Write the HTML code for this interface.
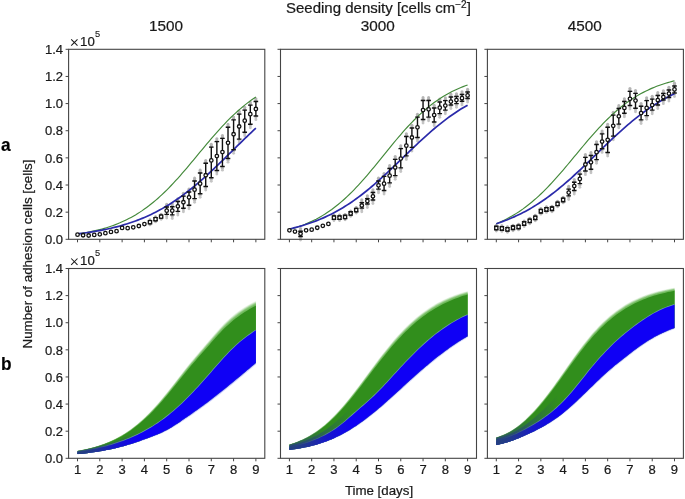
<!DOCTYPE html><html><head><meta charset="utf-8"><style>html,body{margin:0;padding:0;background:#fff;}svg{display:block;will-change:transform}text{font-family:"Liberation Sans", sans-serif;fill:#1a1a1a;stroke:#1a1a1a;stroke-width:0.22px}</style></head><body>
<svg width="685" height="499" viewBox="0 0 685 499">
<rect width="685" height="499" fill="#fff"/>
<defs>
<linearGradient id="nv0" gradientUnits="userSpaceOnUse" x1="77.52" y1="0" x2="139.95" y2="0"><stop offset="0" stop-color="#243f80" stop-opacity="0.9"/><stop offset="1" stop-color="#243f80" stop-opacity="0"/></linearGradient>
<linearGradient id="ng0" gradientUnits="userSpaceOnUse" x1="77.52" y1="0" x2="113.19" y2="0"><stop offset="0" stop-color="#2a4a70" stop-opacity="0.9"/><stop offset="1" stop-color="#2a4a70" stop-opacity="0"/></linearGradient>
<linearGradient id="nv1" gradientUnits="userSpaceOnUse" x1="289.41" y1="0" x2="351.77" y2="0"><stop offset="0" stop-color="#243f80" stop-opacity="0.9"/><stop offset="1" stop-color="#243f80" stop-opacity="0"/></linearGradient>
<linearGradient id="ng1" gradientUnits="userSpaceOnUse" x1="289.41" y1="0" x2="325.05" y2="0"><stop offset="0" stop-color="#2a4a70" stop-opacity="0.9"/><stop offset="1" stop-color="#2a4a70" stop-opacity="0"/></linearGradient>
<linearGradient id="nv2" gradientUnits="userSpaceOnUse" x1="496.31" y1="0" x2="558.67" y2="0"><stop offset="0" stop-color="#243f80" stop-opacity="0.9"/><stop offset="1" stop-color="#243f80" stop-opacity="0"/></linearGradient>
<linearGradient id="ng2" gradientUnits="userSpaceOnUse" x1="496.31" y1="0" x2="531.95" y2="0"><stop offset="0" stop-color="#2a4a70" stop-opacity="0.9"/><stop offset="1" stop-color="#2a4a70" stop-opacity="0"/></linearGradient>
</defs>
<path d="M77.52,450.77 L79.75,450.36 L81.98,449.95 L84.21,449.49 L86.44,448.99 L88.67,448.48 L90.90,447.92 L93.12,447.33 L95.35,446.69 L97.58,446.01 L99.81,445.28 L102.04,444.51 L104.27,443.69 L106.50,442.81 L108.73,441.88 L110.96,440.89 L113.19,439.85 L115.42,438.74 L117.65,437.55 L119.88,436.31 L122.11,435.00 L124.34,433.63 L126.57,432.16 L128.80,430.64 L131.03,429.03 L133.26,427.34 L135.49,425.58 L137.72,423.73 L139.95,421.80 L142.18,419.81 L144.40,417.71 L146.63,415.55 L148.86,413.30 L151.09,410.97 L153.32,408.58 L155.55,406.11 L157.78,403.58 L160.01,400.98 L162.24,398.31 L164.47,395.61 L166.70,392.83 L168.93,390.04 L171.16,387.20 L173.39,384.33 L175.62,381.45 L177.85,378.56 L180.08,375.65 L182.31,372.78 L184.54,369.93 L186.77,367.10 L189.00,364.32 L191.22,361.58 L193.45,358.87 L195.68,356.22 L197.91,353.59 L200.14,350.99 L202.37,348.38 L204.60,345.77 L206.83,343.17 L209.06,340.54 L211.29,337.93 L213.52,335.33 L215.75,332.75 L217.98,330.24 L220.21,327.78 L222.44,325.40 L224.67,323.12 L226.90,320.95 L229.13,318.88 L231.36,316.92 L233.59,315.06 L235.82,313.29 L238.05,311.61 L240.28,310.03 L242.50,308.51 L244.73,307.07 L246.96,305.72 L249.19,304.42 L251.42,303.20 L253.65,302.02 L255.88,300.92 L255.88,362.84 L253.65,364.72 L251.42,366.57 L249.19,368.44 L246.96,370.31 L244.73,372.17 L242.50,374.04 L240.28,375.90 L238.05,377.76 L235.82,379.60 L233.59,381.44 L231.36,383.27 L229.13,385.10 L226.90,386.92 L224.67,388.72 L222.44,390.51 L220.21,392.29 L217.98,394.05 L215.75,395.80 L213.52,397.54 L211.29,399.26 L209.06,400.96 L206.83,402.64 L204.60,404.31 L202.37,405.95 L200.14,407.58 L197.91,409.19 L195.68,410.79 L193.45,412.37 L191.22,413.93 L189.00,415.49 L186.77,417.04 L184.54,418.58 L182.31,420.12 L180.08,421.64 L177.85,423.14 L175.62,424.60 L173.39,426.03 L171.16,427.38 L168.93,428.69 L166.70,429.92 L164.47,431.08 L162.24,432.17 L160.01,433.18 L157.78,434.15 L155.55,435.07 L153.32,435.97 L151.09,436.83 L148.86,437.67 L146.63,438.49 L144.40,439.32 L142.18,440.12 L139.95,440.92 L137.72,441.68 L135.49,442.45 L133.26,443.18 L131.03,443.90 L128.80,444.59 L126.57,445.25 L124.34,445.88 L122.11,446.49 L119.88,447.08 L117.65,447.64 L115.42,448.17 L113.19,448.69 L110.96,449.18 L108.73,449.64 L106.50,450.08 L104.27,450.50 L102.04,450.90 L99.81,451.28 L97.58,451.64 L95.35,451.98 L93.12,452.31 L90.90,452.61 L88.67,452.90 L86.44,453.18 L84.21,453.43 L81.98,453.68 L79.75,453.89 L77.52,454.11Z" fill="#6cb858" fill-opacity="0.16"/>
<path d="M77.52,450.81 L79.75,450.41 L81.98,450.00 L84.21,449.55 L86.44,449.05 L88.67,448.54 L90.90,447.99 L93.12,447.40 L95.35,446.76 L97.58,446.09 L99.81,445.37 L102.04,444.60 L104.27,443.78 L106.50,442.91 L108.73,441.99 L110.96,441.01 L113.19,439.97 L115.42,438.87 L117.65,437.70 L119.88,436.47 L122.11,435.17 L124.34,433.80 L126.57,432.35 L128.80,430.84 L131.03,429.24 L133.26,427.57 L135.49,425.82 L137.72,423.98 L139.95,422.08 L142.18,420.10 L144.40,418.02 L146.63,415.87 L148.86,413.64 L151.09,411.34 L153.32,408.97 L155.55,406.52 L157.78,404.02 L160.01,401.44 L162.24,398.80 L164.47,396.11 L166.70,393.36 L168.93,390.59 L171.16,387.77 L173.39,384.93 L175.62,382.07 L177.85,379.19 L180.08,376.31 L182.31,373.46 L184.54,370.62 L186.77,367.81 L189.00,365.05 L191.22,362.33 L193.45,359.64 L195.68,357.00 L197.91,354.39 L200.14,351.79 L202.37,349.21 L204.60,346.61 L206.83,344.02 L209.06,341.41 L211.29,338.80 L213.52,336.22 L215.75,333.65 L217.98,331.15 L220.21,328.70 L222.44,326.33 L224.67,324.06 L226.90,321.89 L229.13,319.82 L231.36,317.87 L233.59,316.00 L235.82,314.24 L238.05,312.55 L240.28,310.97 L242.50,309.45 L244.73,308.00 L246.96,306.64 L249.19,305.33 L251.42,304.11 L253.65,302.92 L255.88,301.81 L255.88,362.84 L253.65,364.72 L251.42,366.57 L249.19,368.44 L246.96,370.31 L244.73,372.17 L242.50,374.04 L240.28,375.90 L238.05,377.76 L235.82,379.60 L233.59,381.44 L231.36,383.27 L229.13,385.10 L226.90,386.92 L224.67,388.72 L222.44,390.51 L220.21,392.29 L217.98,394.05 L215.75,395.80 L213.52,397.54 L211.29,399.26 L209.06,400.96 L206.83,402.64 L204.60,404.31 L202.37,405.95 L200.14,407.58 L197.91,409.19 L195.68,410.79 L193.45,412.37 L191.22,413.93 L189.00,415.49 L186.77,417.04 L184.54,418.58 L182.31,420.12 L180.08,421.64 L177.85,423.14 L175.62,424.60 L173.39,426.03 L171.16,427.38 L168.93,428.69 L166.70,429.92 L164.47,431.08 L162.24,432.17 L160.01,433.18 L157.78,434.15 L155.55,435.07 L153.32,435.97 L151.09,436.83 L148.86,437.67 L146.63,438.49 L144.40,439.32 L142.18,440.12 L139.95,440.92 L137.72,441.68 L135.49,442.45 L133.26,443.18 L131.03,443.90 L128.80,444.59 L126.57,445.25 L124.34,445.88 L122.11,446.49 L119.88,447.08 L117.65,447.64 L115.42,448.17 L113.19,448.69 L110.96,449.18 L108.73,449.64 L106.50,450.08 L104.27,450.50 L102.04,450.90 L99.81,451.28 L97.58,451.64 L95.35,451.98 L93.12,452.31 L90.90,452.61 L88.67,452.90 L86.44,453.18 L84.21,453.43 L81.98,453.68 L79.75,453.89 L77.52,454.11Z" fill="#6cb858" fill-opacity="0.3"/>
<path d="M77.52,450.86 L79.75,450.46 L81.98,450.05 L84.21,449.60 L86.44,449.11 L88.67,448.60 L90.90,448.06 L93.12,447.47 L95.35,446.84 L97.58,446.17 L99.81,445.46 L102.04,444.69 L104.27,443.88 L106.50,443.02 L108.73,442.10 L110.96,441.13 L113.19,440.10 L115.42,439.00 L117.65,437.84 L119.88,436.62 L122.11,435.33 L124.34,433.98 L126.57,432.54 L128.80,431.04 L131.03,429.45 L133.26,427.79 L135.49,426.07 L137.72,424.24 L139.95,422.35 L142.18,420.39 L144.40,418.33 L146.63,416.20 L148.86,413.99 L151.09,411.71 L153.32,409.37 L155.55,406.94 L157.78,404.45 L160.01,401.90 L162.24,399.28 L164.47,396.62 L166.70,393.89 L168.93,391.14 L171.16,388.34 L173.39,385.52 L175.62,382.68 L177.85,379.83 L180.08,376.97 L182.31,374.14 L184.54,371.32 L186.77,368.53 L189.00,365.78 L191.22,363.07 L193.45,360.40 L195.68,357.78 L197.91,355.18 L200.14,352.60 L202.37,350.03 L204.60,347.44 L206.83,344.87 L209.06,342.27 L211.29,339.68 L213.52,337.11 L215.75,334.55 L217.98,332.06 L220.21,329.62 L222.44,327.26 L224.67,325.00 L226.90,322.83 L229.13,320.77 L231.36,318.81 L233.59,316.95 L235.82,315.18 L238.05,313.50 L240.28,311.91 L242.50,310.38 L244.73,308.93 L246.96,307.57 L249.19,306.25 L251.42,305.01 L253.65,303.82 L255.88,302.69 L255.88,362.84 L253.65,364.72 L251.42,366.57 L249.19,368.44 L246.96,370.31 L244.73,372.17 L242.50,374.04 L240.28,375.90 L238.05,377.76 L235.82,379.60 L233.59,381.44 L231.36,383.27 L229.13,385.10 L226.90,386.92 L224.67,388.72 L222.44,390.51 L220.21,392.29 L217.98,394.05 L215.75,395.80 L213.52,397.54 L211.29,399.26 L209.06,400.96 L206.83,402.64 L204.60,404.31 L202.37,405.95 L200.14,407.58 L197.91,409.19 L195.68,410.79 L193.45,412.37 L191.22,413.93 L189.00,415.49 L186.77,417.04 L184.54,418.58 L182.31,420.12 L180.08,421.64 L177.85,423.14 L175.62,424.60 L173.39,426.03 L171.16,427.38 L168.93,428.69 L166.70,429.92 L164.47,431.08 L162.24,432.17 L160.01,433.18 L157.78,434.15 L155.55,435.07 L153.32,435.97 L151.09,436.83 L148.86,437.67 L146.63,438.49 L144.40,439.32 L142.18,440.12 L139.95,440.92 L137.72,441.68 L135.49,442.45 L133.26,443.18 L131.03,443.90 L128.80,444.59 L126.57,445.25 L124.34,445.88 L122.11,446.49 L119.88,447.08 L117.65,447.64 L115.42,448.17 L113.19,448.69 L110.96,449.18 L108.73,449.64 L106.50,450.08 L104.27,450.50 L102.04,450.90 L99.81,451.28 L97.58,451.64 L95.35,451.98 L93.12,452.31 L90.90,452.61 L88.67,452.90 L86.44,453.18 L84.21,453.43 L81.98,453.68 L79.75,453.89 L77.52,454.11Z" fill="#6cb858" fill-opacity="0.45"/>
<path d="M77.52,450.91 L79.75,450.51 L81.98,450.11 L84.21,449.66 L86.44,449.17 L88.67,448.67 L90.90,448.12 L93.12,447.54 L95.35,446.91 L97.58,446.25 L99.81,445.54 L102.04,444.78 L104.27,443.98 L106.50,443.12 L108.73,442.21 L110.96,441.25 L113.19,440.23 L115.42,439.14 L117.65,437.98 L119.88,436.77 L122.11,435.50 L124.34,434.15 L126.57,432.72 L128.80,431.24 L131.03,429.66 L133.26,428.02 L135.49,426.31 L137.72,424.50 L139.95,422.62 L142.18,420.68 L144.40,418.64 L146.63,416.53 L148.86,414.34 L151.09,412.08 L153.32,409.76 L155.55,407.35 L157.78,404.89 L160.01,402.36 L162.24,399.76 L164.47,397.13 L166.70,394.42 L168.93,391.70 L171.16,388.92 L173.39,386.12 L175.62,383.30 L177.85,380.47 L180.08,377.62 L182.31,374.81 L184.54,372.01 L186.77,369.24 L189.00,366.51 L191.22,363.82 L193.45,361.17 L195.68,358.56 L197.91,355.97 L200.14,353.41 L202.37,350.85 L204.60,348.28 L206.83,345.72 L209.06,343.13 L211.29,340.56 L213.52,338.00 L215.75,335.45 L217.98,332.97 L220.21,330.54 L222.44,328.19 L224.67,325.93 L226.90,323.78 L229.13,321.71 L231.36,319.76 L233.59,317.90 L235.82,316.13 L238.05,314.44 L240.28,312.85 L242.50,311.32 L244.73,309.86 L246.96,308.49 L249.19,307.16 L251.42,305.92 L253.65,304.71 L255.88,303.58 L255.88,362.84 L253.65,364.72 L251.42,366.57 L249.19,368.44 L246.96,370.31 L244.73,372.17 L242.50,374.04 L240.28,375.90 L238.05,377.76 L235.82,379.60 L233.59,381.44 L231.36,383.27 L229.13,385.10 L226.90,386.92 L224.67,388.72 L222.44,390.51 L220.21,392.29 L217.98,394.05 L215.75,395.80 L213.52,397.54 L211.29,399.26 L209.06,400.96 L206.83,402.64 L204.60,404.31 L202.37,405.95 L200.14,407.58 L197.91,409.19 L195.68,410.79 L193.45,412.37 L191.22,413.93 L189.00,415.49 L186.77,417.04 L184.54,418.58 L182.31,420.12 L180.08,421.64 L177.85,423.14 L175.62,424.60 L173.39,426.03 L171.16,427.38 L168.93,428.69 L166.70,429.92 L164.47,431.08 L162.24,432.17 L160.01,433.18 L157.78,434.15 L155.55,435.07 L153.32,435.97 L151.09,436.83 L148.86,437.67 L146.63,438.49 L144.40,439.32 L142.18,440.12 L139.95,440.92 L137.72,441.68 L135.49,442.45 L133.26,443.18 L131.03,443.90 L128.80,444.59 L126.57,445.25 L124.34,445.88 L122.11,446.49 L119.88,447.08 L117.65,447.64 L115.42,448.17 L113.19,448.69 L110.96,449.18 L108.73,449.64 L106.50,450.08 L104.27,450.50 L102.04,450.90 L99.81,451.28 L97.58,451.64 L95.35,451.98 L93.12,452.31 L90.90,452.61 L88.67,452.90 L86.44,453.18 L84.21,453.43 L81.98,453.68 L79.75,453.89 L77.52,454.11Z" fill="#6cb858" fill-opacity="0.65"/>
<path d="M77.52,450.96 L79.75,450.57 L81.98,450.16 L84.21,449.72 L86.44,449.23 L88.67,448.73 L90.90,448.19 L93.12,447.61 L95.35,446.99 L97.58,446.33 L99.81,445.63 L102.04,444.87 L104.27,444.08 L106.50,443.23 L108.73,442.32 L110.96,441.36 L113.19,440.35 L115.42,439.27 L117.65,438.13 L119.88,436.93 L122.11,435.66 L124.34,434.33 L126.57,432.91 L128.80,431.44 L131.03,429.88 L133.26,428.25 L135.49,426.55 L137.72,424.75 L139.95,422.89 L142.18,420.97 L144.40,418.95 L146.63,416.86 L148.86,414.69 L151.09,412.45 L153.32,410.15 L155.55,407.76 L157.78,405.33 L160.01,402.82 L162.24,400.25 L164.47,397.63 L166.70,394.95 L168.93,392.25 L171.16,389.49 L173.39,386.71 L175.62,383.92 L177.85,381.10 L180.08,378.28 L182.31,375.49 L184.54,372.71 L186.77,369.96 L189.00,367.24 L191.22,364.57 L193.45,361.93 L195.68,359.34 L197.91,356.77 L200.14,354.22 L202.37,351.67 L204.60,349.12 L206.83,346.57 L209.06,344.00 L211.29,341.43 L213.52,338.89 L215.75,336.35 L217.98,333.88 L220.21,331.46 L222.44,329.12 L224.67,326.87 L226.90,324.72 L229.13,322.66 L231.36,320.71 L233.59,318.85 L235.82,317.08 L238.05,315.39 L240.28,313.79 L242.50,312.25 L244.73,310.79 L246.96,309.41 L249.19,308.08 L251.42,306.82 L253.65,305.61 L255.88,304.46 L255.88,362.84 L253.65,364.72 L251.42,366.57 L249.19,368.44 L246.96,370.31 L244.73,372.17 L242.50,374.04 L240.28,375.90 L238.05,377.76 L235.82,379.60 L233.59,381.44 L231.36,383.27 L229.13,385.10 L226.90,386.92 L224.67,388.72 L222.44,390.51 L220.21,392.29 L217.98,394.05 L215.75,395.80 L213.52,397.54 L211.29,399.26 L209.06,400.96 L206.83,402.64 L204.60,404.31 L202.37,405.95 L200.14,407.58 L197.91,409.19 L195.68,410.79 L193.45,412.37 L191.22,413.93 L189.00,415.49 L186.77,417.04 L184.54,418.58 L182.31,420.12 L180.08,421.64 L177.85,423.14 L175.62,424.60 L173.39,426.03 L171.16,427.38 L168.93,428.69 L166.70,429.92 L164.47,431.08 L162.24,432.17 L160.01,433.18 L157.78,434.15 L155.55,435.07 L153.32,435.97 L151.09,436.83 L148.86,437.67 L146.63,438.49 L144.40,439.32 L142.18,440.12 L139.95,440.92 L137.72,441.68 L135.49,442.45 L133.26,443.18 L131.03,443.90 L128.80,444.59 L126.57,445.25 L124.34,445.88 L122.11,446.49 L119.88,447.08 L117.65,447.64 L115.42,448.17 L113.19,448.69 L110.96,449.18 L108.73,449.64 L106.50,450.08 L104.27,450.50 L102.04,450.90 L99.81,451.28 L97.58,451.64 L95.35,451.98 L93.12,452.31 L90.90,452.61 L88.67,452.90 L86.44,453.18 L84.21,453.43 L81.98,453.68 L79.75,453.89 L77.52,454.11Z" fill="#6cb858" fill-opacity="0.8"/>
<path d="M77.52,451.02 L79.75,450.63 L81.98,450.23 L84.21,449.79 L86.44,449.31 L88.67,448.81 L90.90,448.28 L93.12,447.71 L95.35,447.09 L97.58,446.44 L99.81,445.74 L102.04,444.99 L104.27,444.21 L106.50,443.36 L108.73,442.47 L110.96,441.52 L113.19,440.52 L115.42,439.45 L117.65,438.32 L119.88,437.13 L122.11,435.88 L124.34,434.56 L126.57,433.16 L128.80,431.71 L131.03,430.16 L133.26,428.55 L135.49,426.87 L137.72,425.10 L139.95,423.26 L142.18,421.35 L144.40,419.36 L146.63,417.29 L148.86,415.15 L151.09,412.94 L153.32,410.67 L155.55,408.32 L157.78,405.91 L160.01,403.43 L162.24,400.89 L164.47,398.31 L166.70,395.66 L168.93,392.98 L171.16,390.26 L173.39,387.51 L175.62,384.74 L177.85,381.95 L180.08,379.16 L182.31,376.39 L184.54,373.64 L186.77,370.91 L189.00,368.22 L191.22,365.57 L193.45,362.95 L195.68,360.38 L197.91,357.83 L200.14,355.30 L202.37,352.77 L204.60,350.23 L206.83,347.70 L209.06,345.15 L211.29,342.60 L213.52,340.07 L215.75,337.56 L217.98,335.10 L220.21,332.69 L222.44,330.36 L224.67,328.12 L226.90,325.98 L229.13,323.92 L231.36,321.97 L233.59,320.11 L235.82,318.34 L238.05,316.65 L240.28,315.05 L242.50,313.50 L244.73,312.03 L246.96,310.64 L249.19,309.30 L251.42,308.03 L253.65,306.80 L255.88,305.64 L255.88,362.84 L253.65,364.72 L251.42,366.57 L249.19,368.44 L246.96,370.31 L244.73,372.17 L242.50,374.04 L240.28,375.90 L238.05,377.76 L235.82,379.60 L233.59,381.44 L231.36,383.27 L229.13,385.10 L226.90,386.92 L224.67,388.72 L222.44,390.51 L220.21,392.29 L217.98,394.05 L215.75,395.80 L213.52,397.54 L211.29,399.26 L209.06,400.96 L206.83,402.64 L204.60,404.31 L202.37,405.95 L200.14,407.58 L197.91,409.19 L195.68,410.79 L193.45,412.37 L191.22,413.93 L189.00,415.49 L186.77,417.04 L184.54,418.58 L182.31,420.12 L180.08,421.64 L177.85,423.14 L175.62,424.60 L173.39,426.03 L171.16,427.38 L168.93,428.69 L166.70,429.92 L164.47,431.08 L162.24,432.17 L160.01,433.18 L157.78,434.15 L155.55,435.07 L153.32,435.97 L151.09,436.83 L148.86,437.67 L146.63,438.49 L144.40,439.32 L142.18,440.12 L139.95,440.92 L137.72,441.68 L135.49,442.45 L133.26,443.18 L131.03,443.90 L128.80,444.59 L126.57,445.25 L124.34,445.88 L122.11,446.49 L119.88,447.08 L117.65,447.64 L115.42,448.17 L113.19,448.69 L110.96,449.18 L108.73,449.64 L106.50,450.08 L104.27,450.50 L102.04,450.90 L99.81,451.28 L97.58,451.64 L95.35,451.98 L93.12,452.31 L90.90,452.61 L88.67,452.90 L86.44,453.18 L84.21,453.43 L81.98,453.68 L79.75,453.89 L77.52,454.11Z" fill="#318e1c"/>
<path d="M77.52,452.21 L79.75,451.86 L81.98,451.49 L84.21,451.10 L86.44,450.69 L88.67,450.27 L90.90,449.83 L93.12,449.37 L95.35,448.89 L97.58,448.39 L99.81,447.86 L102.04,447.32 L104.27,446.75 L106.50,446.15 L108.73,445.53 L110.96,444.89 L113.19,444.21 L115.42,443.52 L117.65,442.79 L119.88,442.02 L122.11,441.23 L124.34,440.40 L126.57,439.55 L128.80,438.64 L131.03,437.72 L133.26,436.74 L135.49,435.73 L137.72,434.68 L139.95,433.59 L142.18,432.45 L144.40,431.27 L146.63,430.03 L148.86,428.76 L151.09,427.43 L153.32,426.06 L155.55,424.62 L157.78,423.15 L160.01,421.61 L162.24,420.03 L164.47,418.39 L166.70,416.69 L168.93,414.93 L171.16,413.11 L173.39,411.26 L175.62,409.33 L177.85,407.34 L180.08,405.31 L182.31,403.22 L184.54,401.06 L186.77,398.87 L189.00,396.62 L191.22,394.32 L193.45,391.98 L195.68,389.61 L197.91,387.18 L200.14,384.73 L202.37,382.24 L204.60,379.74 L206.83,377.22 L209.06,374.67 L211.29,372.13 L213.52,369.58 L215.75,367.04 L217.98,364.51 L220.21,362.01 L222.44,359.54 L224.67,357.10 L226.90,354.70 L229.13,352.37 L231.36,350.11 L233.59,347.93 L235.82,345.82 L238.05,343.80 L240.28,341.87 L242.50,340.03 L244.73,338.28 L246.96,336.59 L249.19,334.96 L251.42,333.38 L253.65,331.85 L255.88,330.34" fill="none" stroke="#7fa8c8" stroke-width="1.5" stroke-opacity="0.75"/>
<path d="M77.52,452.21 L79.75,451.86 L81.98,451.49 L84.21,451.10 L86.44,450.69 L88.67,450.27 L90.90,449.83 L93.12,449.37 L95.35,448.89 L97.58,448.39 L99.81,447.86 L102.04,447.32 L104.27,446.75 L106.50,446.15 L108.73,445.53 L110.96,444.89 L113.19,444.21 L115.42,443.52 L117.65,442.79 L119.88,442.02 L122.11,441.23 L124.34,440.40 L126.57,439.55 L128.80,438.64 L131.03,437.72 L133.26,436.74 L135.49,435.73 L137.72,434.68 L139.95,433.59 L142.18,432.45 L144.40,431.27 L146.63,430.03 L148.86,428.76 L151.09,427.43 L153.32,426.06 L155.55,424.62 L157.78,423.15 L160.01,421.61 L162.24,420.03 L164.47,418.39 L166.70,416.69 L168.93,414.93 L171.16,413.11 L173.39,411.26 L175.62,409.33 L177.85,407.34 L180.08,405.31 L182.31,403.22 L184.54,401.06 L186.77,398.87 L189.00,396.62 L191.22,394.32 L193.45,391.98 L195.68,389.61 L197.91,387.18 L200.14,384.73 L202.37,382.24 L204.60,379.74 L206.83,377.22 L209.06,374.67 L211.29,372.13 L213.52,369.58 L215.75,367.04 L217.98,364.51 L220.21,362.01 L222.44,359.54 L224.67,357.10 L226.90,354.70 L229.13,352.37 L231.36,350.11 L233.59,347.93 L235.82,345.82 L238.05,343.80 L240.28,341.87 L242.50,340.03 L244.73,338.28 L246.96,336.59 L249.19,334.96 L251.42,333.38 L253.65,331.85 L255.88,330.34 L255.88,364.61 L253.65,366.51 L251.42,368.38 L249.19,370.27 L246.96,372.16 L244.73,374.03 L242.50,375.91 L240.28,377.78 L238.05,379.65 L235.82,381.50 L233.59,383.34 L231.36,385.17 L229.13,387.00 L226.90,388.81 L224.67,390.60 L222.44,392.37 L220.21,394.13 L217.98,395.88 L215.75,397.60 L213.52,399.31 L211.29,401.01 L209.06,402.68 L206.83,404.34 L204.60,405.98 L202.37,407.60 L200.14,409.19 L197.91,410.78 L195.68,412.35 L193.45,413.89 L191.22,415.43 L189.00,416.95 L186.77,418.47 L184.54,419.97 L182.31,421.48 L180.08,422.95 L177.85,424.42 L175.62,425.84 L173.39,427.22 L171.16,428.53 L168.93,429.79 L166.70,430.98 L164.47,432.09 L162.24,433.13 L160.01,434.10 L157.78,435.02 L155.55,435.90 L153.32,436.75 L151.09,437.56 L148.86,438.37 L146.63,439.15 L144.40,439.94 L142.18,440.70 L139.95,441.46 L137.72,442.20 L135.49,442.93 L133.26,443.63 L131.03,444.33 L128.80,444.99 L126.57,445.62 L124.34,446.23 L122.11,446.82 L119.88,447.38 L117.65,447.93 L115.42,448.44 L113.19,448.94 L110.96,449.41 L108.73,449.86 L106.50,450.29 L104.27,450.70 L102.04,451.08 L99.81,451.45 L97.58,451.80 L95.35,452.13 L93.12,452.45 L90.90,452.74 L88.67,453.03 L86.44,453.29 L84.21,453.55 L81.98,453.78 L79.75,453.99 L77.52,454.21Z" fill="#6464ff" fill-opacity="0.22"/>
<path d="M77.52,452.21 L79.75,451.86 L81.98,451.49 L84.21,451.10 L86.44,450.69 L88.67,450.27 L90.90,449.83 L93.12,449.37 L95.35,448.89 L97.58,448.39 L99.81,447.86 L102.04,447.32 L104.27,446.75 L106.50,446.15 L108.73,445.53 L110.96,444.89 L113.19,444.21 L115.42,443.52 L117.65,442.79 L119.88,442.02 L122.11,441.23 L124.34,440.40 L126.57,439.55 L128.80,438.64 L131.03,437.72 L133.26,436.74 L135.49,435.73 L137.72,434.68 L139.95,433.59 L142.18,432.45 L144.40,431.27 L146.63,430.03 L148.86,428.76 L151.09,427.43 L153.32,426.06 L155.55,424.62 L157.78,423.15 L160.01,421.61 L162.24,420.03 L164.47,418.39 L166.70,416.69 L168.93,414.93 L171.16,413.11 L173.39,411.26 L175.62,409.33 L177.85,407.34 L180.08,405.31 L182.31,403.22 L184.54,401.06 L186.77,398.87 L189.00,396.62 L191.22,394.32 L193.45,391.98 L195.68,389.61 L197.91,387.18 L200.14,384.73 L202.37,382.24 L204.60,379.74 L206.83,377.22 L209.06,374.67 L211.29,372.13 L213.52,369.58 L215.75,367.04 L217.98,364.51 L220.21,362.01 L222.44,359.54 L224.67,357.10 L226.90,354.70 L229.13,352.37 L231.36,350.11 L233.59,347.93 L235.82,345.82 L238.05,343.80 L240.28,341.87 L242.50,340.03 L244.73,338.28 L246.96,336.59 L249.19,334.96 L251.42,333.38 L253.65,331.85 L255.88,330.34 L255.88,363.73 L253.65,365.61 L251.42,367.48 L249.19,369.36 L246.96,371.24 L244.73,373.10 L242.50,374.98 L240.28,376.84 L238.05,378.70 L235.82,380.55 L233.59,382.39 L231.36,384.22 L229.13,386.05 L226.90,387.86 L224.67,389.66 L222.44,391.44 L220.21,393.21 L217.98,394.96 L215.75,396.70 L213.52,398.43 L211.29,400.14 L209.06,401.82 L206.83,403.49 L204.60,405.15 L202.37,406.78 L200.14,408.39 L197.91,409.99 L195.68,411.57 L193.45,413.13 L191.22,414.68 L189.00,416.22 L186.77,417.76 L184.54,419.28 L182.31,420.80 L180.08,422.29 L177.85,423.78 L175.62,425.22 L173.39,426.62 L171.16,427.96 L168.93,429.24 L166.70,430.45 L164.47,431.58 L162.24,432.65 L160.01,433.64 L157.78,434.59 L155.55,435.49 L153.32,436.36 L151.09,437.19 L148.86,438.02 L146.63,438.82 L144.40,439.63 L142.18,440.41 L139.95,441.19 L137.72,441.94 L135.49,442.69 L133.26,443.40 L131.03,444.11 L128.80,444.79 L126.57,445.44 L124.34,446.06 L122.11,446.66 L119.88,447.23 L117.65,447.79 L115.42,448.31 L113.19,448.81 L110.96,449.29 L108.73,449.75 L106.50,450.19 L104.27,450.60 L102.04,450.99 L99.81,451.36 L97.58,451.72 L95.35,452.06 L93.12,452.38 L90.90,452.67 L88.67,452.97 L86.44,453.24 L84.21,453.49 L81.98,453.73 L79.75,453.94 L77.52,454.16Z" fill="#6464ff" fill-opacity="0.45"/>
<path d="M77.52,452.21 L79.75,451.86 L81.98,451.49 L84.21,451.10 L86.44,450.69 L88.67,450.27 L90.90,449.83 L93.12,449.37 L95.35,448.89 L97.58,448.39 L99.81,447.86 L102.04,447.32 L104.27,446.75 L106.50,446.15 L108.73,445.53 L110.96,444.89 L113.19,444.21 L115.42,443.52 L117.65,442.79 L119.88,442.02 L122.11,441.23 L124.34,440.40 L126.57,439.55 L128.80,438.64 L131.03,437.72 L133.26,436.74 L135.49,435.73 L137.72,434.68 L139.95,433.59 L142.18,432.45 L144.40,431.27 L146.63,430.03 L148.86,428.76 L151.09,427.43 L153.32,426.06 L155.55,424.62 L157.78,423.15 L160.01,421.61 L162.24,420.03 L164.47,418.39 L166.70,416.69 L168.93,414.93 L171.16,413.11 L173.39,411.26 L175.62,409.33 L177.85,407.34 L180.08,405.31 L182.31,403.22 L184.54,401.06 L186.77,398.87 L189.00,396.62 L191.22,394.32 L193.45,391.98 L195.68,389.61 L197.91,387.18 L200.14,384.73 L202.37,382.24 L204.60,379.74 L206.83,377.22 L209.06,374.67 L211.29,372.13 L213.52,369.58 L215.75,367.04 L217.98,364.51 L220.21,362.01 L222.44,359.54 L224.67,357.10 L226.90,354.70 L229.13,352.37 L231.36,350.11 L233.59,347.93 L235.82,345.82 L238.05,343.80 L240.28,341.87 L242.50,340.03 L244.73,338.28 L246.96,336.59 L249.19,334.96 L251.42,333.38 L253.65,331.85 L255.88,330.34 L255.88,362.84 L253.65,364.72 L251.42,366.57 L249.19,368.44 L246.96,370.31 L244.73,372.17 L242.50,374.04 L240.28,375.90 L238.05,377.76 L235.82,379.60 L233.59,381.44 L231.36,383.27 L229.13,385.10 L226.90,386.92 L224.67,388.72 L222.44,390.51 L220.21,392.29 L217.98,394.05 L215.75,395.80 L213.52,397.54 L211.29,399.26 L209.06,400.96 L206.83,402.64 L204.60,404.31 L202.37,405.95 L200.14,407.58 L197.91,409.19 L195.68,410.79 L193.45,412.37 L191.22,413.93 L189.00,415.49 L186.77,417.04 L184.54,418.58 L182.31,420.12 L180.08,421.64 L177.85,423.14 L175.62,424.60 L173.39,426.03 L171.16,427.38 L168.93,428.69 L166.70,429.92 L164.47,431.08 L162.24,432.17 L160.01,433.18 L157.78,434.15 L155.55,435.07 L153.32,435.97 L151.09,436.83 L148.86,437.67 L146.63,438.49 L144.40,439.32 L142.18,440.12 L139.95,440.92 L137.72,441.68 L135.49,442.45 L133.26,443.18 L131.03,443.90 L128.80,444.59 L126.57,445.25 L124.34,445.88 L122.11,446.49 L119.88,447.08 L117.65,447.64 L115.42,448.17 L113.19,448.69 L110.96,449.18 L108.73,449.64 L106.50,450.08 L104.27,450.50 L102.04,450.90 L99.81,451.28 L97.58,451.64 L95.35,451.98 L93.12,452.31 L90.90,452.61 L88.67,452.90 L86.44,453.18 L84.21,453.43 L81.98,453.68 L79.75,453.89 L77.52,454.11Z" fill="#0f00f5"/>
<path d="M77.52,450.92 L79.75,450.53 L81.98,450.13 L84.21,449.68 L86.44,449.19 L88.67,448.69 L90.90,448.15 L93.12,447.56 L95.35,446.94 L97.58,446.27 L99.81,445.57 L102.04,444.81 L104.27,444.01 L106.50,443.16 L108.73,442.25 L110.96,441.29 L113.19,440.27 L115.42,439.18 L117.65,438.03 L119.88,436.83 L122.11,435.55 L124.34,434.21 L126.57,432.79 L128.80,431.31 L131.03,429.74 L133.26,428.09 L135.49,426.39 L137.72,424.58 L139.95,422.71 L142.18,420.77 L144.40,418.74 L146.63,416.64 L148.86,414.46 L151.09,412.21 L153.32,409.89 L155.55,407.49 L157.78,405.03 L160.01,402.51 L162.24,399.92 L164.47,397.30 L166.70,394.60 L168.93,391.88 L171.16,389.11 L173.39,386.32 L175.62,383.51 L177.85,380.68 L180.08,377.84 L182.31,375.04 L184.54,372.24 L186.77,369.48 L189.00,366.76 L191.22,364.07 L193.45,361.42 L195.68,358.82 L197.91,356.24 L200.14,353.68 L202.37,351.12 L204.60,348.56 L206.83,346.00 L209.06,343.42 L211.29,340.85 L213.52,338.29 L215.75,335.75 L217.98,333.28 L220.21,330.85 L222.44,328.50 L224.67,326.25 L226.90,324.09 L229.13,322.03 L231.36,320.08 L233.59,318.22 L235.82,316.45 L238.05,314.76 L240.28,313.16 L242.50,311.63 L244.73,310.17 L246.96,308.80 L249.19,307.47 L251.42,306.22 L253.65,305.01 L255.88,303.87 L255.88,362.84 L253.65,364.72 L251.42,366.57 L249.19,368.44 L246.96,370.31 L244.73,372.17 L242.50,374.04 L240.28,375.90 L238.05,377.76 L235.82,379.60 L233.59,381.44 L231.36,383.27 L229.13,385.10 L226.90,386.92 L224.67,388.72 L222.44,390.51 L220.21,392.29 L217.98,394.05 L215.75,395.80 L213.52,397.54 L211.29,399.26 L209.06,400.96 L206.83,402.64 L204.60,404.31 L202.37,405.95 L200.14,407.58 L197.91,409.19 L195.68,410.79 L193.45,412.37 L191.22,413.93 L189.00,415.49 L186.77,417.04 L184.54,418.58 L182.31,420.12 L180.08,421.64 L177.85,423.14 L175.62,424.60 L173.39,426.03 L171.16,427.38 L168.93,428.69 L166.70,429.92 L164.47,431.08 L162.24,432.17 L160.01,433.18 L157.78,434.15 L155.55,435.07 L153.32,435.97 L151.09,436.83 L148.86,437.67 L146.63,438.49 L144.40,439.32 L142.18,440.12 L139.95,440.92 L137.72,441.68 L135.49,442.45 L133.26,443.18 L131.03,443.90 L128.80,444.59 L126.57,445.25 L124.34,445.88 L122.11,446.49 L119.88,447.08 L117.65,447.64 L115.42,448.17 L113.19,448.69 L110.96,449.18 L108.73,449.64 L106.50,450.08 L104.27,450.50 L102.04,450.90 L99.81,451.28 L97.58,451.64 L95.35,451.98 L93.12,452.31 L90.90,452.61 L88.67,452.90 L86.44,453.18 L84.21,453.43 L81.98,453.68 L79.75,453.89 L77.52,454.11Z" fill="url(#ng0)"/>
<path d="M77.52,451.57 L79.75,451.20 L81.98,450.81 L84.21,450.39 L86.44,449.94 L88.67,449.48 L90.90,448.99 L93.12,448.46 L95.35,447.92 L97.58,447.33 L99.81,446.72 L102.04,446.06 L104.27,445.38 L106.50,444.65 L108.73,443.89 L110.96,443.09 L113.19,442.24 L115.42,441.35 L117.65,440.41 L119.88,439.42 L122.11,438.39 L124.34,437.31 L126.57,436.17 L128.80,434.97 L131.03,433.73 L133.26,432.42 L135.49,431.06 L137.72,429.63 L139.95,428.15 L142.18,426.61 L144.40,425.00 L146.63,423.34 L148.86,421.61 L151.09,419.82 L153.32,417.97 L155.55,416.06 L157.78,414.09 L160.01,412.06 L162.24,409.98 L164.47,407.84 L166.70,405.65 L168.93,403.41 L171.16,401.11 L173.39,398.79 L175.62,396.42 L177.85,394.01 L180.08,391.57 L182.31,389.13 L184.54,386.65 L186.77,384.17 L189.00,381.69 L191.22,379.20 L193.45,376.70 L195.68,374.21 L197.91,371.71 L200.14,369.20 L202.37,366.68 L204.60,364.15 L206.83,361.61 L209.06,359.04 L211.29,356.49 L213.52,353.94 L215.75,351.40 L217.98,348.89 L220.21,346.43 L222.44,344.02 L224.67,341.67 L226.90,339.40 L229.13,337.20 L231.36,335.09 L233.59,333.07 L235.82,331.13 L238.05,329.28 L240.28,327.52 L242.50,325.83 L244.73,324.22 L246.96,322.69 L249.19,321.21 L251.42,319.80 L253.65,318.43 L255.88,317.11 L255.88,362.84 L253.65,364.72 L251.42,366.57 L249.19,368.44 L246.96,370.31 L244.73,372.17 L242.50,374.04 L240.28,375.90 L238.05,377.76 L235.82,379.60 L233.59,381.44 L231.36,383.27 L229.13,385.10 L226.90,386.92 L224.67,388.72 L222.44,390.51 L220.21,392.29 L217.98,394.05 L215.75,395.80 L213.52,397.54 L211.29,399.26 L209.06,400.96 L206.83,402.64 L204.60,404.31 L202.37,405.95 L200.14,407.58 L197.91,409.19 L195.68,410.79 L193.45,412.37 L191.22,413.93 L189.00,415.49 L186.77,417.04 L184.54,418.58 L182.31,420.12 L180.08,421.64 L177.85,423.14 L175.62,424.60 L173.39,426.03 L171.16,427.38 L168.93,428.69 L166.70,429.92 L164.47,431.08 L162.24,432.17 L160.01,433.18 L157.78,434.15 L155.55,435.07 L153.32,435.97 L151.09,436.83 L148.86,437.67 L146.63,438.49 L144.40,439.32 L142.18,440.12 L139.95,440.92 L137.72,441.68 L135.49,442.45 L133.26,443.18 L131.03,443.90 L128.80,444.59 L126.57,445.25 L124.34,445.88 L122.11,446.49 L119.88,447.08 L117.65,447.64 L115.42,448.17 L113.19,448.69 L110.96,449.18 L108.73,449.64 L106.50,450.08 L104.27,450.50 L102.04,450.90 L99.81,451.28 L97.58,451.64 L95.35,451.98 L93.12,452.31 L90.90,452.61 L88.67,452.90 L86.44,453.18 L84.21,453.43 L81.98,453.68 L79.75,453.89 L77.52,454.11Z" fill="url(#nv0)"/>
<path d="M289.41,444.39 L291.64,443.68 L293.86,442.91 L296.09,442.08 L298.32,441.21 L300.55,440.24 L302.77,439.22 L305.00,438.12 L307.23,436.93 L309.45,435.68 L311.68,434.32 L313.91,432.90 L316.14,431.38 L318.36,429.78 L320.59,428.08 L322.82,426.29 L325.05,424.41 L327.27,422.43 L329.50,420.37 L331.73,418.20 L333.95,415.96 L336.18,413.62 L338.41,411.21 L340.64,408.71 L342.86,406.13 L345.09,403.49 L347.32,400.78 L349.55,398.00 L351.77,395.16 L354.00,392.29 L356.23,389.36 L358.45,386.40 L360.68,383.40 L362.91,380.40 L365.14,377.37 L367.36,374.34 L369.59,371.31 L371.82,368.28 L374.05,365.28 L376.27,362.29 L378.50,359.34 L380.73,356.40 L382.95,353.52 L385.18,350.67 L387.41,347.88 L389.64,345.15 L391.86,342.47 L394.09,339.84 L396.32,337.29 L398.55,334.80 L400.77,332.39 L403.00,330.04 L405.23,327.76 L407.45,325.57 L409.68,323.44 L411.91,321.39 L414.14,319.41 L416.36,317.52 L418.59,315.68 L420.82,313.93 L423.05,312.25 L425.27,310.63 L427.50,309.09 L429.73,307.62 L431.95,306.20 L434.18,304.85 L436.41,303.58 L438.64,302.35 L440.86,301.19 L443.09,300.09 L445.32,299.03 L447.55,298.03 L449.77,297.09 L452.00,296.18 L454.23,295.32 L456.45,294.51 L458.68,293.74 L460.91,293.02 L463.14,292.33 L465.36,291.68 L467.59,291.07 L467.59,336.18 L465.36,337.48 L463.14,338.82 L460.91,340.19 L458.68,341.60 L456.45,343.05 L454.23,344.53 L452.00,346.03 L449.77,347.59 L447.55,349.18 L445.32,350.79 L443.09,352.45 L440.86,354.13 L438.64,355.85 L436.41,357.58 L434.18,359.37 L431.95,361.18 L429.73,363.01 L427.50,364.88 L425.27,366.76 L423.05,368.67 L420.82,370.61 L418.59,372.56 L416.36,374.53 L414.14,376.52 L411.91,378.52 L409.68,380.54 L407.45,382.56 L405.23,384.59 L403.00,386.62 L400.77,388.66 L398.55,390.70 L396.32,392.74 L394.09,394.76 L391.86,396.78 L389.64,398.78 L387.41,400.78 L385.18,402.74 L382.95,404.70 L380.73,406.63 L378.50,408.53 L376.27,410.42 L374.05,412.26 L371.82,414.06 L369.59,415.84 L367.36,417.59 L365.14,419.28 L362.91,420.94 L360.68,422.55 L358.45,424.12 L356.23,425.64 L354.00,427.12 L351.77,428.54 L349.55,429.92 L347.32,431.25 L345.09,432.53 L342.86,433.75 L340.64,434.93 L338.41,436.05 L336.18,437.12 L333.95,438.15 L331.73,439.13 L329.50,440.05 L327.27,440.93 L325.05,441.76 L322.82,442.55 L320.59,443.29 L318.36,444.00 L316.14,444.65 L313.91,445.27 L311.68,445.84 L309.45,446.38 L307.23,446.88 L305.00,447.36 L302.77,447.79 L300.55,448.20 L298.32,448.58 L296.09,448.93 L293.86,449.26 L291.64,449.56 L289.41,449.84Z" fill="#6cb858" fill-opacity="0.16"/>
<path d="M289.41,444.47 L291.64,443.76 L293.86,443.00 L296.09,442.18 L298.32,441.31 L300.55,440.36 L302.77,439.35 L305.00,438.25 L307.23,437.08 L309.45,435.83 L311.68,434.49 L313.91,433.08 L316.14,431.57 L318.36,429.98 L320.59,428.29 L322.82,426.52 L325.05,424.66 L327.27,422.69 L329.50,420.65 L331.73,418.50 L333.95,416.28 L336.18,413.96 L338.41,411.57 L340.64,409.08 L342.86,406.53 L345.09,403.90 L347.32,401.21 L349.55,398.45 L351.77,395.64 L354.00,392.78 L356.23,389.87 L358.45,386.94 L360.68,383.96 L362.91,380.97 L365.14,377.97 L367.36,374.96 L369.59,371.95 L371.82,368.94 L374.05,365.96 L376.27,362.98 L378.50,360.04 L380.73,357.12 L382.95,354.25 L385.18,351.42 L387.41,348.64 L389.64,345.91 L391.86,343.25 L394.09,340.62 L396.32,338.08 L398.55,335.60 L400.77,333.19 L403.00,330.85 L405.23,328.58 L407.45,326.39 L409.68,324.26 L411.91,322.21 L414.14,320.23 L416.36,318.33 L418.59,316.49 L420.82,314.74 L423.05,313.05 L425.27,311.44 L427.50,309.89 L429.73,308.41 L431.95,306.99 L434.18,305.63 L436.41,304.35 L438.64,303.12 L440.86,301.94 L443.09,300.84 L445.32,299.77 L447.55,298.76 L449.77,297.81 L452.00,296.89 L454.23,296.02 L456.45,295.20 L458.68,294.43 L460.91,293.69 L463.14,292.99 L465.36,292.34 L467.59,291.71 L467.59,336.18 L465.36,337.48 L463.14,338.82 L460.91,340.19 L458.68,341.60 L456.45,343.05 L454.23,344.53 L452.00,346.03 L449.77,347.59 L447.55,349.18 L445.32,350.79 L443.09,352.45 L440.86,354.13 L438.64,355.85 L436.41,357.58 L434.18,359.37 L431.95,361.18 L429.73,363.01 L427.50,364.88 L425.27,366.76 L423.05,368.67 L420.82,370.61 L418.59,372.56 L416.36,374.53 L414.14,376.52 L411.91,378.52 L409.68,380.54 L407.45,382.56 L405.23,384.59 L403.00,386.62 L400.77,388.66 L398.55,390.70 L396.32,392.74 L394.09,394.76 L391.86,396.78 L389.64,398.78 L387.41,400.78 L385.18,402.74 L382.95,404.70 L380.73,406.63 L378.50,408.53 L376.27,410.42 L374.05,412.26 L371.82,414.06 L369.59,415.84 L367.36,417.59 L365.14,419.28 L362.91,420.94 L360.68,422.55 L358.45,424.12 L356.23,425.64 L354.00,427.12 L351.77,428.54 L349.55,429.92 L347.32,431.25 L345.09,432.53 L342.86,433.75 L340.64,434.93 L338.41,436.05 L336.18,437.12 L333.95,438.15 L331.73,439.13 L329.50,440.05 L327.27,440.93 L325.05,441.76 L322.82,442.55 L320.59,443.29 L318.36,444.00 L316.14,444.65 L313.91,445.27 L311.68,445.84 L309.45,446.38 L307.23,446.88 L305.00,447.36 L302.77,447.79 L300.55,448.20 L298.32,448.58 L296.09,448.93 L293.86,449.26 L291.64,449.56 L289.41,449.84Z" fill="#6cb858" fill-opacity="0.3"/>
<path d="M289.41,444.54 L291.64,443.84 L293.86,443.09 L296.09,442.28 L298.32,441.42 L300.55,440.47 L302.77,439.47 L305.00,438.38 L307.23,437.22 L309.45,435.98 L311.68,434.65 L313.91,433.25 L316.14,431.76 L318.36,430.18 L320.59,428.51 L322.82,426.75 L325.05,424.90 L327.27,422.96 L329.50,420.93 L331.73,418.80 L333.95,416.60 L336.18,414.29 L338.41,411.92 L340.64,409.46 L342.86,406.92 L345.09,404.32 L347.32,401.65 L349.55,398.91 L351.77,396.11 L354.00,393.28 L356.23,390.39 L358.45,387.48 L360.68,384.52 L362.91,381.55 L365.14,378.57 L367.36,375.58 L369.59,372.58 L371.82,369.59 L374.05,366.63 L376.27,363.66 L378.50,360.74 L380.73,357.83 L382.95,354.98 L385.18,352.16 L387.41,349.39 L389.64,346.68 L391.86,344.02 L394.09,341.41 L396.32,338.88 L398.55,336.40 L400.77,333.99 L403.00,331.66 L405.23,329.39 L407.45,327.20 L409.68,325.07 L411.91,323.02 L414.14,321.04 L416.36,319.15 L418.59,317.31 L420.82,315.55 L423.05,313.86 L425.27,312.24 L427.50,310.68 L429.73,309.20 L431.95,307.77 L434.18,306.41 L436.41,305.12 L438.64,303.88 L440.86,302.70 L443.09,301.59 L445.32,300.51 L447.55,299.49 L449.77,298.53 L452.00,297.61 L454.23,296.72 L456.45,295.90 L458.68,295.11 L460.91,294.36 L463.14,293.66 L465.36,292.99 L467.59,292.36 L467.59,336.18 L465.36,337.48 L463.14,338.82 L460.91,340.19 L458.68,341.60 L456.45,343.05 L454.23,344.53 L452.00,346.03 L449.77,347.59 L447.55,349.18 L445.32,350.79 L443.09,352.45 L440.86,354.13 L438.64,355.85 L436.41,357.58 L434.18,359.37 L431.95,361.18 L429.73,363.01 L427.50,364.88 L425.27,366.76 L423.05,368.67 L420.82,370.61 L418.59,372.56 L416.36,374.53 L414.14,376.52 L411.91,378.52 L409.68,380.54 L407.45,382.56 L405.23,384.59 L403.00,386.62 L400.77,388.66 L398.55,390.70 L396.32,392.74 L394.09,394.76 L391.86,396.78 L389.64,398.78 L387.41,400.78 L385.18,402.74 L382.95,404.70 L380.73,406.63 L378.50,408.53 L376.27,410.42 L374.05,412.26 L371.82,414.06 L369.59,415.84 L367.36,417.59 L365.14,419.28 L362.91,420.94 L360.68,422.55 L358.45,424.12 L356.23,425.64 L354.00,427.12 L351.77,428.54 L349.55,429.92 L347.32,431.25 L345.09,432.53 L342.86,433.75 L340.64,434.93 L338.41,436.05 L336.18,437.12 L333.95,438.15 L331.73,439.13 L329.50,440.05 L327.27,440.93 L325.05,441.76 L322.82,442.55 L320.59,443.29 L318.36,444.00 L316.14,444.65 L313.91,445.27 L311.68,445.84 L309.45,446.38 L307.23,446.88 L305.00,447.36 L302.77,447.79 L300.55,448.20 L298.32,448.58 L296.09,448.93 L293.86,449.26 L291.64,449.56 L289.41,449.84Z" fill="#6cb858" fill-opacity="0.45"/>
<path d="M289.41,444.62 L291.64,443.93 L293.86,443.18 L296.09,442.38 L298.32,441.52 L300.55,440.58 L302.77,439.59 L305.00,438.52 L307.23,437.36 L309.45,436.14 L311.68,434.82 L313.91,433.43 L316.14,431.95 L318.36,430.39 L320.59,428.73 L322.82,426.99 L325.05,425.15 L327.27,423.22 L329.50,421.21 L331.73,419.10 L333.95,416.91 L336.18,414.63 L338.41,412.28 L340.64,409.83 L342.86,407.32 L345.09,404.73 L347.32,402.08 L349.55,399.36 L351.77,396.59 L354.00,393.78 L356.23,390.91 L358.45,388.02 L360.68,385.08 L362.91,382.13 L365.14,379.17 L367.36,376.20 L369.59,373.22 L371.82,370.25 L374.05,367.30 L376.27,364.35 L378.50,361.44 L380.73,358.55 L382.95,355.71 L385.18,352.90 L387.41,350.15 L389.64,347.45 L391.86,344.80 L394.09,342.19 L396.32,339.67 L398.55,337.20 L400.77,334.80 L403.00,332.46 L405.23,330.20 L407.45,328.02 L409.68,325.89 L411.91,323.84 L414.14,321.86 L416.36,319.96 L418.59,318.12 L420.82,316.36 L423.05,314.66 L425.27,313.04 L427.50,311.48 L429.73,309.99 L431.95,308.56 L434.18,307.19 L436.41,305.89 L438.64,304.65 L440.86,303.46 L443.09,302.33 L445.32,301.25 L447.55,300.22 L449.77,299.25 L452.00,298.32 L454.23,297.43 L456.45,296.59 L458.68,295.79 L460.91,295.04 L463.14,294.32 L465.36,293.65 L467.59,293.00 L467.59,336.18 L465.36,337.48 L463.14,338.82 L460.91,340.19 L458.68,341.60 L456.45,343.05 L454.23,344.53 L452.00,346.03 L449.77,347.59 L447.55,349.18 L445.32,350.79 L443.09,352.45 L440.86,354.13 L438.64,355.85 L436.41,357.58 L434.18,359.37 L431.95,361.18 L429.73,363.01 L427.50,364.88 L425.27,366.76 L423.05,368.67 L420.82,370.61 L418.59,372.56 L416.36,374.53 L414.14,376.52 L411.91,378.52 L409.68,380.54 L407.45,382.56 L405.23,384.59 L403.00,386.62 L400.77,388.66 L398.55,390.70 L396.32,392.74 L394.09,394.76 L391.86,396.78 L389.64,398.78 L387.41,400.78 L385.18,402.74 L382.95,404.70 L380.73,406.63 L378.50,408.53 L376.27,410.42 L374.05,412.26 L371.82,414.06 L369.59,415.84 L367.36,417.59 L365.14,419.28 L362.91,420.94 L360.68,422.55 L358.45,424.12 L356.23,425.64 L354.00,427.12 L351.77,428.54 L349.55,429.92 L347.32,431.25 L345.09,432.53 L342.86,433.75 L340.64,434.93 L338.41,436.05 L336.18,437.12 L333.95,438.15 L331.73,439.13 L329.50,440.05 L327.27,440.93 L325.05,441.76 L322.82,442.55 L320.59,443.29 L318.36,444.00 L316.14,444.65 L313.91,445.27 L311.68,445.84 L309.45,446.38 L307.23,446.88 L305.00,447.36 L302.77,447.79 L300.55,448.20 L298.32,448.58 L296.09,448.93 L293.86,449.26 L291.64,449.56 L289.41,449.84Z" fill="#6cb858" fill-opacity="0.65"/>
<path d="M289.41,444.70 L291.64,444.01 L293.86,443.27 L296.09,442.48 L298.32,441.63 L300.55,440.70 L302.77,439.71 L305.00,438.65 L307.23,437.50 L309.45,436.29 L311.68,434.98 L313.91,433.61 L316.14,432.14 L318.36,430.59 L320.59,428.94 L322.82,427.22 L325.05,425.40 L327.27,423.49 L329.50,421.49 L331.73,419.40 L333.95,417.23 L336.18,414.96 L338.41,412.63 L340.64,410.20 L342.86,407.71 L345.09,405.15 L347.32,402.52 L349.55,399.82 L351.77,397.07 L354.00,394.28 L356.23,391.43 L358.45,388.56 L360.68,385.64 L362.91,382.71 L365.14,379.77 L367.36,376.81 L369.59,373.86 L371.82,370.90 L374.05,367.97 L376.27,365.04 L378.50,362.15 L380.73,359.27 L382.95,356.44 L385.18,353.65 L387.41,350.90 L389.64,348.21 L391.86,345.57 L394.09,342.98 L396.32,340.46 L398.55,338.00 L400.77,335.60 L403.00,333.27 L405.23,331.01 L407.45,328.83 L409.68,326.70 L411.91,324.66 L414.14,322.68 L416.36,320.78 L418.59,318.93 L420.82,317.17 L423.05,315.47 L425.27,313.84 L427.50,312.28 L429.73,310.78 L431.95,309.34 L434.18,307.97 L436.41,306.66 L438.64,305.41 L440.86,304.21 L443.09,303.08 L445.32,301.99 L447.55,300.95 L449.77,299.97 L452.00,299.03 L454.23,298.13 L456.45,297.28 L458.68,296.48 L460.91,295.71 L463.14,294.99 L465.36,294.30 L467.59,293.64 L467.59,336.18 L465.36,337.48 L463.14,338.82 L460.91,340.19 L458.68,341.60 L456.45,343.05 L454.23,344.53 L452.00,346.03 L449.77,347.59 L447.55,349.18 L445.32,350.79 L443.09,352.45 L440.86,354.13 L438.64,355.85 L436.41,357.58 L434.18,359.37 L431.95,361.18 L429.73,363.01 L427.50,364.88 L425.27,366.76 L423.05,368.67 L420.82,370.61 L418.59,372.56 L416.36,374.53 L414.14,376.52 L411.91,378.52 L409.68,380.54 L407.45,382.56 L405.23,384.59 L403.00,386.62 L400.77,388.66 L398.55,390.70 L396.32,392.74 L394.09,394.76 L391.86,396.78 L389.64,398.78 L387.41,400.78 L385.18,402.74 L382.95,404.70 L380.73,406.63 L378.50,408.53 L376.27,410.42 L374.05,412.26 L371.82,414.06 L369.59,415.84 L367.36,417.59 L365.14,419.28 L362.91,420.94 L360.68,422.55 L358.45,424.12 L356.23,425.64 L354.00,427.12 L351.77,428.54 L349.55,429.92 L347.32,431.25 L345.09,432.53 L342.86,433.75 L340.64,434.93 L338.41,436.05 L336.18,437.12 L333.95,438.15 L331.73,439.13 L329.50,440.05 L327.27,440.93 L325.05,441.76 L322.82,442.55 L320.59,443.29 L318.36,444.00 L316.14,444.65 L313.91,445.27 L311.68,445.84 L309.45,446.38 L307.23,446.88 L305.00,447.36 L302.77,447.79 L300.55,448.20 L298.32,448.58 L296.09,448.93 L293.86,449.26 L291.64,449.56 L289.41,449.84Z" fill="#6cb858" fill-opacity="0.8"/>
<path d="M289.41,444.80 L291.64,444.12 L293.86,443.39 L296.09,442.61 L298.32,441.77 L300.55,440.85 L302.77,439.88 L305.00,438.82 L307.23,437.69 L309.45,436.49 L311.68,435.20 L313.91,433.84 L316.14,432.39 L318.36,430.86 L320.59,429.23 L322.82,427.53 L325.05,425.73 L327.27,423.84 L329.50,421.87 L331.73,419.80 L333.95,417.65 L336.18,415.41 L338.41,413.11 L340.64,410.70 L342.86,408.24 L345.09,405.70 L347.32,403.10 L349.55,400.43 L351.77,397.70 L354.00,394.94 L356.23,392.12 L358.45,389.27 L360.68,386.39 L362.91,383.48 L365.14,380.57 L367.36,377.64 L369.59,374.70 L371.82,371.77 L374.05,368.86 L376.27,365.95 L378.50,363.08 L380.73,360.23 L382.95,357.42 L385.18,354.64 L387.41,351.91 L389.64,349.23 L391.86,346.61 L394.09,344.02 L396.32,341.52 L398.55,339.06 L400.77,336.67 L403.00,334.35 L405.23,332.09 L407.45,329.92 L409.68,327.79 L411.91,325.74 L414.14,323.76 L416.36,321.86 L418.59,320.02 L420.82,318.25 L423.05,316.55 L425.27,314.91 L427.50,313.34 L429.73,311.84 L431.95,310.39 L434.18,309.01 L436.41,307.69 L438.64,306.43 L440.86,305.22 L443.09,304.08 L445.32,302.98 L447.55,301.93 L449.77,300.93 L452.00,299.98 L454.23,299.07 L456.45,298.21 L458.68,297.39 L460.91,296.61 L463.14,295.87 L465.36,295.17 L467.59,294.50 L467.59,336.18 L465.36,337.48 L463.14,338.82 L460.91,340.19 L458.68,341.60 L456.45,343.05 L454.23,344.53 L452.00,346.03 L449.77,347.59 L447.55,349.18 L445.32,350.79 L443.09,352.45 L440.86,354.13 L438.64,355.85 L436.41,357.58 L434.18,359.37 L431.95,361.18 L429.73,363.01 L427.50,364.88 L425.27,366.76 L423.05,368.67 L420.82,370.61 L418.59,372.56 L416.36,374.53 L414.14,376.52 L411.91,378.52 L409.68,380.54 L407.45,382.56 L405.23,384.59 L403.00,386.62 L400.77,388.66 L398.55,390.70 L396.32,392.74 L394.09,394.76 L391.86,396.78 L389.64,398.78 L387.41,400.78 L385.18,402.74 L382.95,404.70 L380.73,406.63 L378.50,408.53 L376.27,410.42 L374.05,412.26 L371.82,414.06 L369.59,415.84 L367.36,417.59 L365.14,419.28 L362.91,420.94 L360.68,422.55 L358.45,424.12 L356.23,425.64 L354.00,427.12 L351.77,428.54 L349.55,429.92 L347.32,431.25 L345.09,432.53 L342.86,433.75 L340.64,434.93 L338.41,436.05 L336.18,437.12 L333.95,438.15 L331.73,439.13 L329.50,440.05 L327.27,440.93 L325.05,441.76 L322.82,442.55 L320.59,443.29 L318.36,444.00 L316.14,444.65 L313.91,445.27 L311.68,445.84 L309.45,446.38 L307.23,446.88 L305.00,447.36 L302.77,447.79 L300.55,448.20 L298.32,448.58 L296.09,448.93 L293.86,449.26 L291.64,449.56 L289.41,449.84Z" fill="#318e1c"/>
<path d="M289.41,447.40 L291.64,446.93 L293.86,446.42 L296.09,445.88 L298.32,445.31 L300.55,444.70 L302.77,444.06 L305.00,443.39 L307.23,442.67 L309.45,441.90 L311.68,441.09 L313.91,440.24 L316.14,439.34 L318.36,438.39 L320.59,437.37 L322.82,436.31 L325.05,435.19 L327.27,433.99 L329.50,432.73 L331.73,431.37 L333.95,429.94 L336.18,428.42 L338.41,426.80 L340.64,425.10 L342.86,423.33 L345.09,421.46 L347.32,419.56 L349.55,417.61 L351.77,415.65 L354.00,413.67 L356.23,411.71 L358.45,409.77 L360.68,407.84 L362.91,405.92 L365.14,403.99 L367.36,402.03 L369.59,400.04 L371.82,397.99 L374.05,395.89 L376.27,393.73 L378.50,391.51 L380.73,389.22 L382.95,386.90 L385.18,384.53 L387.41,382.14 L389.64,379.73 L391.86,377.30 L394.09,374.87 L396.32,372.45 L398.55,370.03 L400.77,367.61 L403.00,365.23 L405.23,362.86 L407.45,360.53 L409.68,358.21 L411.91,355.94 L414.14,353.69 L416.36,351.50 L418.59,349.34 L420.82,347.23 L423.05,345.17 L425.27,343.15 L427.50,341.18 L429.73,339.27 L431.95,337.41 L434.18,335.59 L436.41,333.85 L438.64,332.15 L440.86,330.51 L443.09,328.91 L445.32,327.38 L447.55,325.90 L449.77,324.48 L452.00,323.09 L454.23,321.78 L456.45,320.51 L458.68,319.30 L460.91,318.12 L463.14,317.01 L465.36,315.92 L467.59,314.91" fill="none" stroke="#7fa8c8" stroke-width="1.5" stroke-opacity="0.75"/>
<path d="M289.41,447.40 L291.64,446.93 L293.86,446.42 L296.09,445.88 L298.32,445.31 L300.55,444.70 L302.77,444.06 L305.00,443.39 L307.23,442.67 L309.45,441.90 L311.68,441.09 L313.91,440.24 L316.14,439.34 L318.36,438.39 L320.59,437.37 L322.82,436.31 L325.05,435.19 L327.27,433.99 L329.50,432.73 L331.73,431.37 L333.95,429.94 L336.18,428.42 L338.41,426.80 L340.64,425.10 L342.86,423.33 L345.09,421.46 L347.32,419.56 L349.55,417.61 L351.77,415.65 L354.00,413.67 L356.23,411.71 L358.45,409.77 L360.68,407.84 L362.91,405.92 L365.14,403.99 L367.36,402.03 L369.59,400.04 L371.82,397.99 L374.05,395.89 L376.27,393.73 L378.50,391.51 L380.73,389.22 L382.95,386.90 L385.18,384.53 L387.41,382.14 L389.64,379.73 L391.86,377.30 L394.09,374.87 L396.32,372.45 L398.55,370.03 L400.77,367.61 L403.00,365.23 L405.23,362.86 L407.45,360.53 L409.68,358.21 L411.91,355.94 L414.14,353.69 L416.36,351.50 L418.59,349.34 L420.82,347.23 L423.05,345.17 L425.27,343.15 L427.50,341.18 L429.73,339.27 L431.95,337.41 L434.18,335.59 L436.41,333.85 L438.64,332.15 L440.86,330.51 L443.09,328.91 L445.32,327.38 L447.55,325.90 L449.77,324.48 L452.00,323.09 L454.23,321.78 L456.45,320.51 L458.68,319.30 L460.91,318.12 L463.14,317.01 L465.36,315.92 L467.59,314.91 L467.59,337.47 L465.36,338.79 L463.14,340.15 L460.91,341.54 L458.68,342.97 L456.45,344.44 L454.23,345.93 L452.00,347.46 L449.77,349.04 L447.55,350.64 L445.32,352.27 L443.09,353.94 L440.86,355.64 L438.64,357.38 L436.41,359.13 L434.18,360.93 L431.95,362.75 L429.73,364.59 L427.50,366.47 L425.27,368.37 L423.05,370.29 L420.82,372.23 L418.59,374.19 L416.36,376.16 L414.14,378.16 L411.91,380.15 L409.68,382.17 L407.45,384.18 L405.23,386.21 L403.00,388.24 L400.77,390.26 L398.55,392.30 L396.32,394.32 L394.09,396.33 L391.86,398.33 L389.64,400.32 L387.41,402.29 L385.18,404.23 L382.95,406.16 L380.73,408.07 L378.50,409.94 L376.27,411.79 L374.05,413.60 L371.82,415.37 L369.59,417.11 L367.36,418.82 L365.14,420.48 L362.91,422.09 L360.68,423.67 L358.45,425.20 L356.23,426.68 L354.00,428.11 L351.77,429.50 L349.55,430.84 L347.32,432.12 L345.09,433.36 L342.86,434.54 L340.64,435.68 L338.41,436.76 L336.18,437.80 L333.95,438.79 L331.73,439.73 L329.50,440.61 L327.27,441.46 L325.05,442.26 L322.82,443.01 L320.59,443.73 L318.36,444.40 L316.14,445.03 L313.91,445.63 L311.68,446.17 L309.45,446.69 L307.23,447.17 L305.00,447.62 L302.77,448.04 L300.55,448.43 L298.32,448.79 L296.09,449.13 L293.86,449.44 L291.64,449.72 L289.41,450.00Z" fill="#6464ff" fill-opacity="0.22"/>
<path d="M289.41,447.40 L291.64,446.93 L293.86,446.42 L296.09,445.88 L298.32,445.31 L300.55,444.70 L302.77,444.06 L305.00,443.39 L307.23,442.67 L309.45,441.90 L311.68,441.09 L313.91,440.24 L316.14,439.34 L318.36,438.39 L320.59,437.37 L322.82,436.31 L325.05,435.19 L327.27,433.99 L329.50,432.73 L331.73,431.37 L333.95,429.94 L336.18,428.42 L338.41,426.80 L340.64,425.10 L342.86,423.33 L345.09,421.46 L347.32,419.56 L349.55,417.61 L351.77,415.65 L354.00,413.67 L356.23,411.71 L358.45,409.77 L360.68,407.84 L362.91,405.92 L365.14,403.99 L367.36,402.03 L369.59,400.04 L371.82,397.99 L374.05,395.89 L376.27,393.73 L378.50,391.51 L380.73,389.22 L382.95,386.90 L385.18,384.53 L387.41,382.14 L389.64,379.73 L391.86,377.30 L394.09,374.87 L396.32,372.45 L398.55,370.03 L400.77,367.61 L403.00,365.23 L405.23,362.86 L407.45,360.53 L409.68,358.21 L411.91,355.94 L414.14,353.69 L416.36,351.50 L418.59,349.34 L420.82,347.23 L423.05,345.17 L425.27,343.15 L427.50,341.18 L429.73,339.27 L431.95,337.41 L434.18,335.59 L436.41,333.85 L438.64,332.15 L440.86,330.51 L443.09,328.91 L445.32,327.38 L447.55,325.90 L449.77,324.48 L452.00,323.09 L454.23,321.78 L456.45,320.51 L458.68,319.30 L460.91,318.12 L463.14,317.01 L465.36,315.92 L467.59,314.91 L467.59,336.82 L465.36,338.13 L463.14,339.49 L460.91,340.86 L458.68,342.28 L456.45,343.74 L454.23,345.23 L452.00,346.75 L449.77,348.31 L447.55,349.91 L445.32,351.53 L443.09,353.19 L440.86,354.88 L438.64,356.61 L436.41,358.36 L434.18,360.15 L431.95,361.96 L429.73,363.80 L427.50,365.67 L425.27,367.56 L423.05,369.48 L420.82,371.42 L418.59,373.38 L416.36,375.34 L414.14,377.34 L411.91,379.33 L409.68,381.35 L407.45,383.37 L405.23,385.40 L403.00,387.43 L400.77,389.46 L398.55,391.50 L396.32,393.53 L394.09,395.54 L391.86,397.55 L389.64,399.55 L387.41,401.53 L385.18,403.49 L382.95,405.43 L380.73,407.35 L378.50,409.23 L376.27,411.10 L374.05,412.93 L371.82,414.72 L369.59,416.48 L367.36,418.21 L365.14,419.88 L362.91,421.52 L360.68,423.11 L358.45,424.66 L356.23,426.16 L354.00,427.62 L351.77,429.02 L349.55,430.38 L347.32,431.69 L345.09,432.94 L342.86,434.14 L340.64,435.30 L338.41,436.41 L336.18,437.46 L333.95,438.47 L331.73,439.43 L329.50,440.33 L327.27,441.20 L325.05,442.01 L322.82,442.78 L320.59,443.51 L318.36,444.20 L316.14,444.84 L313.91,445.45 L311.68,446.01 L309.45,446.54 L307.23,447.03 L305.00,447.49 L302.77,447.92 L300.55,448.31 L298.32,448.68 L296.09,449.03 L293.86,449.35 L291.64,449.64 L289.41,449.92Z" fill="#6464ff" fill-opacity="0.45"/>
<path d="M289.41,447.40 L291.64,446.93 L293.86,446.42 L296.09,445.88 L298.32,445.31 L300.55,444.70 L302.77,444.06 L305.00,443.39 L307.23,442.67 L309.45,441.90 L311.68,441.09 L313.91,440.24 L316.14,439.34 L318.36,438.39 L320.59,437.37 L322.82,436.31 L325.05,435.19 L327.27,433.99 L329.50,432.73 L331.73,431.37 L333.95,429.94 L336.18,428.42 L338.41,426.80 L340.64,425.10 L342.86,423.33 L345.09,421.46 L347.32,419.56 L349.55,417.61 L351.77,415.65 L354.00,413.67 L356.23,411.71 L358.45,409.77 L360.68,407.84 L362.91,405.92 L365.14,403.99 L367.36,402.03 L369.59,400.04 L371.82,397.99 L374.05,395.89 L376.27,393.73 L378.50,391.51 L380.73,389.22 L382.95,386.90 L385.18,384.53 L387.41,382.14 L389.64,379.73 L391.86,377.30 L394.09,374.87 L396.32,372.45 L398.55,370.03 L400.77,367.61 L403.00,365.23 L405.23,362.86 L407.45,360.53 L409.68,358.21 L411.91,355.94 L414.14,353.69 L416.36,351.50 L418.59,349.34 L420.82,347.23 L423.05,345.17 L425.27,343.15 L427.50,341.18 L429.73,339.27 L431.95,337.41 L434.18,335.59 L436.41,333.85 L438.64,332.15 L440.86,330.51 L443.09,328.91 L445.32,327.38 L447.55,325.90 L449.77,324.48 L452.00,323.09 L454.23,321.78 L456.45,320.51 L458.68,319.30 L460.91,318.12 L463.14,317.01 L465.36,315.92 L467.59,314.91 L467.59,336.18 L465.36,337.48 L463.14,338.82 L460.91,340.19 L458.68,341.60 L456.45,343.05 L454.23,344.53 L452.00,346.03 L449.77,347.59 L447.55,349.18 L445.32,350.79 L443.09,352.45 L440.86,354.13 L438.64,355.85 L436.41,357.58 L434.18,359.37 L431.95,361.18 L429.73,363.01 L427.50,364.88 L425.27,366.76 L423.05,368.67 L420.82,370.61 L418.59,372.56 L416.36,374.53 L414.14,376.52 L411.91,378.52 L409.68,380.54 L407.45,382.56 L405.23,384.59 L403.00,386.62 L400.77,388.66 L398.55,390.70 L396.32,392.74 L394.09,394.76 L391.86,396.78 L389.64,398.78 L387.41,400.78 L385.18,402.74 L382.95,404.70 L380.73,406.63 L378.50,408.53 L376.27,410.42 L374.05,412.26 L371.82,414.06 L369.59,415.84 L367.36,417.59 L365.14,419.28 L362.91,420.94 L360.68,422.55 L358.45,424.12 L356.23,425.64 L354.00,427.12 L351.77,428.54 L349.55,429.92 L347.32,431.25 L345.09,432.53 L342.86,433.75 L340.64,434.93 L338.41,436.05 L336.18,437.12 L333.95,438.15 L331.73,439.13 L329.50,440.05 L327.27,440.93 L325.05,441.76 L322.82,442.55 L320.59,443.29 L318.36,444.00 L316.14,444.65 L313.91,445.27 L311.68,445.84 L309.45,446.38 L307.23,446.88 L305.00,447.36 L302.77,447.79 L300.55,448.20 L298.32,448.58 L296.09,448.93 L293.86,449.26 L291.64,449.56 L289.41,449.84Z" fill="#0f00f5"/>
<path d="M289.41,444.65 L291.64,443.96 L293.86,443.21 L296.09,442.41 L298.32,441.56 L300.55,440.62 L302.77,439.63 L305.00,438.56 L307.23,437.41 L309.45,436.19 L311.68,434.87 L313.91,433.49 L316.14,432.01 L318.36,430.45 L320.59,428.80 L322.82,427.06 L325.05,425.23 L327.27,423.31 L329.50,421.30 L331.73,419.20 L333.95,417.02 L336.18,414.74 L338.41,412.40 L340.64,409.96 L342.86,407.45 L345.09,404.87 L347.32,402.23 L349.55,399.52 L351.77,396.75 L354.00,393.94 L356.23,391.08 L358.45,388.20 L360.68,385.27 L362.91,382.33 L365.14,379.37 L367.36,376.40 L369.59,373.43 L371.82,370.46 L374.05,367.52 L376.27,364.58 L378.50,361.68 L380.73,358.79 L382.95,355.96 L385.18,353.15 L387.41,350.40 L389.64,347.70 L391.86,345.06 L394.09,342.45 L396.32,339.93 L398.55,337.47 L400.77,335.07 L403.00,332.73 L405.23,330.47 L407.45,328.29 L409.68,326.16 L411.91,324.11 L414.14,322.13 L416.36,320.23 L418.59,318.39 L420.82,316.63 L423.05,314.93 L425.27,313.31 L427.50,311.75 L429.73,310.26 L431.95,308.82 L434.18,307.45 L436.41,306.15 L438.64,304.90 L440.86,303.71 L443.09,302.58 L445.32,301.50 L447.55,300.47 L449.77,299.49 L452.00,298.56 L454.23,297.66 L456.45,296.82 L458.68,296.02 L460.91,295.26 L463.14,294.54 L465.36,293.87 L467.59,293.21 L467.59,336.18 L465.36,337.48 L463.14,338.82 L460.91,340.19 L458.68,341.60 L456.45,343.05 L454.23,344.53 L452.00,346.03 L449.77,347.59 L447.55,349.18 L445.32,350.79 L443.09,352.45 L440.86,354.13 L438.64,355.85 L436.41,357.58 L434.18,359.37 L431.95,361.18 L429.73,363.01 L427.50,364.88 L425.27,366.76 L423.05,368.67 L420.82,370.61 L418.59,372.56 L416.36,374.53 L414.14,376.52 L411.91,378.52 L409.68,380.54 L407.45,382.56 L405.23,384.59 L403.00,386.62 L400.77,388.66 L398.55,390.70 L396.32,392.74 L394.09,394.76 L391.86,396.78 L389.64,398.78 L387.41,400.78 L385.18,402.74 L382.95,404.70 L380.73,406.63 L378.50,408.53 L376.27,410.42 L374.05,412.26 L371.82,414.06 L369.59,415.84 L367.36,417.59 L365.14,419.28 L362.91,420.94 L360.68,422.55 L358.45,424.12 L356.23,425.64 L354.00,427.12 L351.77,428.54 L349.55,429.92 L347.32,431.25 L345.09,432.53 L342.86,433.75 L340.64,434.93 L338.41,436.05 L336.18,437.12 L333.95,438.15 L331.73,439.13 L329.50,440.05 L327.27,440.93 L325.05,441.76 L322.82,442.55 L320.59,443.29 L318.36,444.00 L316.14,444.65 L313.91,445.27 L311.68,445.84 L309.45,446.38 L307.23,446.88 L305.00,447.36 L302.77,447.79 L300.55,448.20 L298.32,448.58 L296.09,448.93 L293.86,449.26 L291.64,449.56 L289.41,449.84Z" fill="url(#ng1)"/>
<path d="M289.41,446.02 L291.64,445.44 L293.86,444.82 L296.09,444.15 L298.32,443.43 L300.55,442.66 L302.77,441.85 L305.00,440.97 L307.23,440.04 L309.45,439.04 L311.68,437.98 L313.91,436.86 L316.14,435.68 L318.36,434.42 L320.59,433.09 L322.82,431.69 L325.05,430.21 L327.27,428.65 L329.50,427.01 L331.73,425.29 L333.95,423.48 L336.18,421.58 L338.41,419.60 L340.64,417.53 L342.86,415.39 L345.09,413.16 L347.32,410.89 L349.55,408.56 L351.77,406.20 L354.00,403.81 L356.23,401.40 L358.45,398.98 L360.68,396.55 L362.91,394.12 L365.14,391.68 L367.36,389.22 L369.59,386.73 L371.82,384.23 L374.05,381.71 L376.27,379.15 L378.50,376.59 L380.73,374.01 L382.95,371.43 L385.18,368.84 L387.41,366.27 L389.64,363.71 L391.86,361.18 L394.09,358.66 L396.32,356.19 L398.55,353.75 L400.77,351.34 L403.00,348.98 L405.23,346.66 L407.45,344.41 L409.68,342.18 L411.91,340.03 L414.14,337.91 L416.36,335.87 L418.59,333.87 L420.82,331.93 L423.05,330.05 L425.27,328.23 L427.50,326.46 L429.73,324.76 L431.95,323.11 L434.18,321.52 L436.41,320.00 L438.64,318.53 L440.86,317.11 L443.09,315.75 L445.32,314.44 L447.55,313.18 L449.77,311.98 L452.00,310.83 L454.23,309.72 L456.45,308.66 L458.68,307.66 L460.91,306.69 L463.14,305.78 L465.36,304.89 L467.59,304.06 L467.59,336.18 L465.36,337.48 L463.14,338.82 L460.91,340.19 L458.68,341.60 L456.45,343.05 L454.23,344.53 L452.00,346.03 L449.77,347.59 L447.55,349.18 L445.32,350.79 L443.09,352.45 L440.86,354.13 L438.64,355.85 L436.41,357.58 L434.18,359.37 L431.95,361.18 L429.73,363.01 L427.50,364.88 L425.27,366.76 L423.05,368.67 L420.82,370.61 L418.59,372.56 L416.36,374.53 L414.14,376.52 L411.91,378.52 L409.68,380.54 L407.45,382.56 L405.23,384.59 L403.00,386.62 L400.77,388.66 L398.55,390.70 L396.32,392.74 L394.09,394.76 L391.86,396.78 L389.64,398.78 L387.41,400.78 L385.18,402.74 L382.95,404.70 L380.73,406.63 L378.50,408.53 L376.27,410.42 L374.05,412.26 L371.82,414.06 L369.59,415.84 L367.36,417.59 L365.14,419.28 L362.91,420.94 L360.68,422.55 L358.45,424.12 L356.23,425.64 L354.00,427.12 L351.77,428.54 L349.55,429.92 L347.32,431.25 L345.09,432.53 L342.86,433.75 L340.64,434.93 L338.41,436.05 L336.18,437.12 L333.95,438.15 L331.73,439.13 L329.50,440.05 L327.27,440.93 L325.05,441.76 L322.82,442.55 L320.59,443.29 L318.36,444.00 L316.14,444.65 L313.91,445.27 L311.68,445.84 L309.45,446.38 L307.23,446.88 L305.00,447.36 L302.77,447.79 L300.55,448.20 L298.32,448.58 L296.09,448.93 L293.86,449.26 L291.64,449.56 L289.41,449.84Z" fill="url(#nv1)"/>
<path d="M496.31,437.23 L498.54,436.51 L500.76,435.72 L502.99,434.82 L505.22,433.82 L507.45,432.71 L509.67,431.49 L511.90,430.15 L514.13,428.71 L516.35,427.13 L518.58,425.44 L520.81,423.65 L523.04,421.73 L525.26,419.71 L527.49,417.57 L529.72,415.35 L531.95,413.01 L534.17,410.58 L536.40,408.06 L538.63,405.46 L540.85,402.76 L543.08,400.01 L545.31,397.15 L547.54,394.26 L549.76,391.27 L551.99,388.25 L554.22,385.17 L556.45,382.04 L558.67,378.88 L560.90,375.70 L563.13,372.50 L565.35,369.30 L567.58,366.09 L569.81,362.92 L572.04,359.74 L574.26,356.61 L576.49,353.52 L578.72,350.48 L580.95,347.50 L583.17,344.58 L585.40,341.73 L587.63,338.94 L589.85,336.24 L592.08,333.62 L594.31,331.09 L596.54,328.65 L598.76,326.28 L600.99,324.01 L603.22,321.82 L605.45,319.73 L607.67,317.71 L609.90,315.79 L612.13,313.95 L614.35,312.19 L616.58,310.50 L618.81,308.91 L621.04,307.38 L623.26,305.94 L625.49,304.57 L627.72,303.27 L629.95,302.03 L632.17,300.86 L634.40,299.77 L636.63,298.71 L638.85,297.72 L641.08,296.79 L643.31,295.91 L645.54,295.08 L647.76,294.29 L649.99,293.55 L652.22,292.86 L654.45,292.20 L656.67,291.58 L658.90,290.99 L661.13,290.43 L663.35,289.92 L665.58,289.42 L667.81,288.96 L670.04,288.52 L672.26,288.11 L674.49,287.72 L674.49,327.95 L672.26,328.76 L670.04,329.60 L667.81,330.49 L665.58,331.43 L663.35,332.42 L661.13,333.45 L658.90,334.53 L656.67,335.67 L654.45,336.87 L652.22,338.13 L649.99,339.44 L647.76,340.82 L645.54,342.25 L643.31,343.72 L641.08,345.26 L638.85,346.83 L636.63,348.45 L634.40,350.09 L632.17,351.76 L629.95,353.44 L627.72,355.16 L625.49,356.88 L623.26,358.63 L621.04,360.40 L618.81,362.18 L616.58,364.00 L614.35,365.84 L612.13,367.71 L609.90,369.61 L607.67,371.56 L605.45,373.55 L603.22,375.56 L600.99,377.62 L598.76,379.71 L596.54,381.83 L594.31,383.98 L592.08,386.13 L589.85,388.31 L587.63,390.49 L585.40,392.65 L583.17,394.84 L580.95,396.99 L578.72,399.11 L576.49,401.22 L574.26,403.29 L572.04,405.32 L569.81,407.30 L567.58,409.23 L565.35,411.11 L563.13,412.93 L560.90,414.68 L558.67,416.38 L556.45,417.99 L554.22,419.56 L551.99,421.05 L549.76,422.49 L547.54,423.86 L545.31,425.18 L543.08,426.46 L540.85,427.68 L538.63,428.86 L536.40,430.02 L534.17,431.14 L531.95,432.24 L529.72,433.30 L527.49,434.33 L525.26,435.34 L523.04,436.33 L520.81,437.28 L518.58,438.19 L516.35,439.08 L514.13,439.92 L511.90,440.72 L509.67,441.47 L507.45,442.18 L505.22,442.84 L502.99,443.45 L500.76,444.00 L498.54,444.52 L496.31,444.99Z" fill="#6cb858" fill-opacity="0.16"/>
<path d="M496.31,437.34 L498.54,436.63 L500.76,435.83 L502.99,434.94 L505.22,433.95 L507.45,432.84 L509.67,431.63 L511.90,430.31 L514.13,428.87 L516.35,427.30 L518.58,425.63 L520.81,423.85 L523.04,421.94 L525.26,419.93 L527.49,417.81 L529.72,415.60 L531.95,413.28 L534.17,410.88 L536.40,408.38 L538.63,405.79 L540.85,403.12 L543.08,400.38 L545.31,397.55 L547.54,394.68 L549.76,391.72 L551.99,388.72 L554.22,385.66 L556.45,382.56 L558.67,379.42 L560.90,376.26 L563.13,373.08 L565.35,369.90 L567.58,366.71 L569.81,363.55 L572.04,360.40 L574.26,357.27 L576.49,354.20 L578.72,351.18 L580.95,348.21 L583.17,345.30 L585.40,342.46 L587.63,339.68 L589.85,336.99 L592.08,334.37 L594.31,331.84 L596.54,329.41 L598.76,327.04 L600.99,324.78 L603.22,322.59 L605.45,320.50 L607.67,318.48 L609.90,316.55 L612.13,314.71 L614.35,312.95 L616.58,311.27 L618.81,309.67 L621.04,308.14 L623.26,306.70 L625.49,305.31 L627.72,304.01 L629.95,302.77 L632.17,301.59 L634.40,300.49 L636.63,299.42 L638.85,298.42 L641.08,297.48 L643.31,296.60 L645.54,295.75 L647.76,294.96 L649.99,294.21 L652.22,293.51 L654.45,292.84 L656.67,292.21 L658.90,291.61 L661.13,291.05 L663.35,290.52 L665.58,290.02 L667.81,289.55 L670.04,289.11 L672.26,288.69 L674.49,288.29 L674.49,327.95 L672.26,328.76 L670.04,329.60 L667.81,330.49 L665.58,331.43 L663.35,332.42 L661.13,333.45 L658.90,334.53 L656.67,335.67 L654.45,336.87 L652.22,338.13 L649.99,339.44 L647.76,340.82 L645.54,342.25 L643.31,343.72 L641.08,345.26 L638.85,346.83 L636.63,348.45 L634.40,350.09 L632.17,351.76 L629.95,353.44 L627.72,355.16 L625.49,356.88 L623.26,358.63 L621.04,360.40 L618.81,362.18 L616.58,364.00 L614.35,365.84 L612.13,367.71 L609.90,369.61 L607.67,371.56 L605.45,373.55 L603.22,375.56 L600.99,377.62 L598.76,379.71 L596.54,381.83 L594.31,383.98 L592.08,386.13 L589.85,388.31 L587.63,390.49 L585.40,392.65 L583.17,394.84 L580.95,396.99 L578.72,399.11 L576.49,401.22 L574.26,403.29 L572.04,405.32 L569.81,407.30 L567.58,409.23 L565.35,411.11 L563.13,412.93 L560.90,414.68 L558.67,416.38 L556.45,417.99 L554.22,419.56 L551.99,421.05 L549.76,422.49 L547.54,423.86 L545.31,425.18 L543.08,426.46 L540.85,427.68 L538.63,428.86 L536.40,430.02 L534.17,431.14 L531.95,432.24 L529.72,433.30 L527.49,434.33 L525.26,435.34 L523.04,436.33 L520.81,437.28 L518.58,438.19 L516.35,439.08 L514.13,439.92 L511.90,440.72 L509.67,441.47 L507.45,442.18 L505.22,442.84 L502.99,443.45 L500.76,444.00 L498.54,444.52 L496.31,444.99Z" fill="#6cb858" fill-opacity="0.3"/>
<path d="M496.31,437.45 L498.54,436.74 L500.76,435.95 L502.99,435.07 L505.22,434.07 L507.45,432.98 L509.67,431.77 L511.90,430.46 L514.13,429.03 L516.35,427.48 L518.58,425.81 L520.81,424.04 L523.04,422.15 L525.26,420.16 L527.49,418.05 L529.72,415.86 L531.95,413.56 L534.17,411.17 L536.40,408.69 L538.63,406.13 L540.85,403.48 L543.08,400.76 L545.31,397.96 L547.54,395.10 L549.76,392.16 L551.99,389.18 L554.22,386.15 L556.45,383.07 L558.67,379.95 L560.90,376.82 L563.13,373.65 L565.35,370.50 L567.58,367.32 L569.81,364.18 L572.04,361.05 L574.26,357.94 L576.49,354.88 L578.72,351.87 L580.95,348.91 L583.17,346.01 L585.40,343.18 L587.63,340.42 L589.85,337.73 L592.08,335.12 L594.31,332.60 L596.54,330.17 L598.76,327.81 L600.99,325.54 L603.22,323.36 L605.45,321.27 L607.67,319.25 L609.90,317.32 L612.13,315.48 L614.35,313.72 L616.58,312.03 L618.81,310.43 L621.04,308.89 L623.26,307.45 L625.49,306.06 L627.72,304.75 L629.95,303.50 L632.17,302.32 L634.40,301.20 L636.63,300.13 L638.85,299.13 L641.08,298.18 L643.31,297.28 L645.54,296.42 L647.76,295.62 L649.99,294.86 L652.22,294.16 L654.45,293.48 L656.67,292.84 L658.90,292.24 L661.13,291.66 L663.35,291.13 L665.58,290.62 L667.81,290.15 L670.04,289.69 L672.26,289.27 L674.49,288.87 L674.49,327.95 L672.26,328.76 L670.04,329.60 L667.81,330.49 L665.58,331.43 L663.35,332.42 L661.13,333.45 L658.90,334.53 L656.67,335.67 L654.45,336.87 L652.22,338.13 L649.99,339.44 L647.76,340.82 L645.54,342.25 L643.31,343.72 L641.08,345.26 L638.85,346.83 L636.63,348.45 L634.40,350.09 L632.17,351.76 L629.95,353.44 L627.72,355.16 L625.49,356.88 L623.26,358.63 L621.04,360.40 L618.81,362.18 L616.58,364.00 L614.35,365.84 L612.13,367.71 L609.90,369.61 L607.67,371.56 L605.45,373.55 L603.22,375.56 L600.99,377.62 L598.76,379.71 L596.54,381.83 L594.31,383.98 L592.08,386.13 L589.85,388.31 L587.63,390.49 L585.40,392.65 L583.17,394.84 L580.95,396.99 L578.72,399.11 L576.49,401.22 L574.26,403.29 L572.04,405.32 L569.81,407.30 L567.58,409.23 L565.35,411.11 L563.13,412.93 L560.90,414.68 L558.67,416.38 L556.45,417.99 L554.22,419.56 L551.99,421.05 L549.76,422.49 L547.54,423.86 L545.31,425.18 L543.08,426.46 L540.85,427.68 L538.63,428.86 L536.40,430.02 L534.17,431.14 L531.95,432.24 L529.72,433.30 L527.49,434.33 L525.26,435.34 L523.04,436.33 L520.81,437.28 L518.58,438.19 L516.35,439.08 L514.13,439.92 L511.90,440.72 L509.67,441.47 L507.45,442.18 L505.22,442.84 L502.99,443.45 L500.76,444.00 L498.54,444.52 L496.31,444.99Z" fill="#6cb858" fill-opacity="0.45"/>
<path d="M496.31,437.56 L498.54,436.86 L500.76,436.07 L502.99,435.19 L505.22,434.20 L507.45,433.11 L509.67,431.92 L511.90,430.61 L514.13,429.19 L516.35,427.65 L518.58,425.99 L520.81,424.24 L523.04,422.36 L525.26,420.38 L527.49,418.29 L529.72,416.11 L531.95,413.83 L534.17,411.47 L536.40,409.01 L538.63,406.46 L540.85,403.83 L543.08,401.14 L545.31,398.36 L547.54,395.53 L549.76,392.61 L551.99,389.65 L554.22,386.64 L556.45,383.58 L558.67,380.49 L560.90,377.37 L563.13,374.23 L565.35,371.09 L567.58,367.94 L569.81,364.82 L572.04,361.70 L574.26,358.61 L576.49,355.57 L578.72,352.57 L580.95,349.62 L583.17,346.73 L585.40,343.91 L587.63,341.15 L589.85,338.47 L592.08,335.87 L594.31,333.35 L596.54,330.93 L598.76,328.57 L600.99,326.31 L603.22,324.13 L605.45,322.04 L607.67,320.02 L609.90,318.09 L612.13,316.25 L614.35,314.49 L616.58,312.79 L618.81,311.20 L621.04,309.65 L623.26,308.20 L625.49,306.81 L627.72,305.49 L629.95,304.24 L632.17,303.05 L634.40,301.92 L636.63,300.84 L638.85,299.83 L641.08,298.87 L643.31,297.96 L645.54,297.10 L647.76,296.29 L649.99,295.52 L652.22,294.80 L654.45,294.11 L656.67,293.47 L658.90,292.86 L661.13,292.28 L663.35,291.74 L665.58,291.23 L667.81,290.74 L670.04,290.28 L672.26,289.85 L674.49,289.44 L674.49,327.95 L672.26,328.76 L670.04,329.60 L667.81,330.49 L665.58,331.43 L663.35,332.42 L661.13,333.45 L658.90,334.53 L656.67,335.67 L654.45,336.87 L652.22,338.13 L649.99,339.44 L647.76,340.82 L645.54,342.25 L643.31,343.72 L641.08,345.26 L638.85,346.83 L636.63,348.45 L634.40,350.09 L632.17,351.76 L629.95,353.44 L627.72,355.16 L625.49,356.88 L623.26,358.63 L621.04,360.40 L618.81,362.18 L616.58,364.00 L614.35,365.84 L612.13,367.71 L609.90,369.61 L607.67,371.56 L605.45,373.55 L603.22,375.56 L600.99,377.62 L598.76,379.71 L596.54,381.83 L594.31,383.98 L592.08,386.13 L589.85,388.31 L587.63,390.49 L585.40,392.65 L583.17,394.84 L580.95,396.99 L578.72,399.11 L576.49,401.22 L574.26,403.29 L572.04,405.32 L569.81,407.30 L567.58,409.23 L565.35,411.11 L563.13,412.93 L560.90,414.68 L558.67,416.38 L556.45,417.99 L554.22,419.56 L551.99,421.05 L549.76,422.49 L547.54,423.86 L545.31,425.18 L543.08,426.46 L540.85,427.68 L538.63,428.86 L536.40,430.02 L534.17,431.14 L531.95,432.24 L529.72,433.30 L527.49,434.33 L525.26,435.34 L523.04,436.33 L520.81,437.28 L518.58,438.19 L516.35,439.08 L514.13,439.92 L511.90,440.72 L509.67,441.47 L507.45,442.18 L505.22,442.84 L502.99,443.45 L500.76,444.00 L498.54,444.52 L496.31,444.99Z" fill="#6cb858" fill-opacity="0.65"/>
<path d="M496.31,437.67 L498.54,436.97 L500.76,436.19 L502.99,435.31 L505.22,434.33 L507.45,433.25 L509.67,432.06 L511.90,430.76 L514.13,429.35 L516.35,427.82 L518.58,426.17 L520.81,424.43 L523.04,422.57 L525.26,420.60 L527.49,418.53 L529.72,416.37 L531.95,414.11 L534.17,411.76 L536.40,409.32 L538.63,406.80 L540.85,404.19 L543.08,401.52 L545.31,398.76 L547.54,395.95 L549.76,393.06 L551.99,390.12 L554.22,387.13 L556.45,384.10 L558.67,381.03 L560.90,377.93 L563.13,374.81 L565.35,371.69 L567.58,368.56 L569.81,365.45 L572.04,362.35 L574.26,359.28 L576.49,356.25 L578.72,353.26 L580.95,350.33 L583.17,347.45 L585.40,344.64 L587.63,341.89 L589.85,339.22 L592.08,336.62 L594.31,334.11 L596.54,331.69 L598.76,329.33 L600.99,327.07 L603.22,324.89 L605.45,322.81 L607.67,320.79 L609.90,318.86 L612.13,317.02 L614.35,315.25 L616.58,313.56 L618.81,311.96 L621.04,310.41 L623.26,308.95 L625.49,307.55 L627.72,306.24 L629.95,304.97 L632.17,303.77 L634.40,302.64 L636.63,301.55 L638.85,300.53 L641.08,299.56 L643.31,298.65 L645.54,297.77 L647.76,296.95 L649.99,296.17 L652.22,295.45 L654.45,294.75 L656.67,294.10 L658.90,293.48 L661.13,292.89 L663.35,292.35 L665.58,291.83 L667.81,291.33 L670.04,290.87 L672.26,290.43 L674.49,290.02 L674.49,327.95 L672.26,328.76 L670.04,329.60 L667.81,330.49 L665.58,331.43 L663.35,332.42 L661.13,333.45 L658.90,334.53 L656.67,335.67 L654.45,336.87 L652.22,338.13 L649.99,339.44 L647.76,340.82 L645.54,342.25 L643.31,343.72 L641.08,345.26 L638.85,346.83 L636.63,348.45 L634.40,350.09 L632.17,351.76 L629.95,353.44 L627.72,355.16 L625.49,356.88 L623.26,358.63 L621.04,360.40 L618.81,362.18 L616.58,364.00 L614.35,365.84 L612.13,367.71 L609.90,369.61 L607.67,371.56 L605.45,373.55 L603.22,375.56 L600.99,377.62 L598.76,379.71 L596.54,381.83 L594.31,383.98 L592.08,386.13 L589.85,388.31 L587.63,390.49 L585.40,392.65 L583.17,394.84 L580.95,396.99 L578.72,399.11 L576.49,401.22 L574.26,403.29 L572.04,405.32 L569.81,407.30 L567.58,409.23 L565.35,411.11 L563.13,412.93 L560.90,414.68 L558.67,416.38 L556.45,417.99 L554.22,419.56 L551.99,421.05 L549.76,422.49 L547.54,423.86 L545.31,425.18 L543.08,426.46 L540.85,427.68 L538.63,428.86 L536.40,430.02 L534.17,431.14 L531.95,432.24 L529.72,433.30 L527.49,434.33 L525.26,435.34 L523.04,436.33 L520.81,437.28 L518.58,438.19 L516.35,439.08 L514.13,439.92 L511.90,440.72 L509.67,441.47 L507.45,442.18 L505.22,442.84 L502.99,443.45 L500.76,444.00 L498.54,444.52 L496.31,444.99Z" fill="#6cb858" fill-opacity="0.8"/>
<path d="M496.31,437.82 L498.54,437.12 L500.76,436.35 L502.99,435.48 L505.22,434.50 L507.45,433.43 L509.67,432.25 L511.90,430.96 L514.13,429.56 L516.35,428.04 L518.58,426.41 L520.81,424.69 L523.04,422.85 L525.26,420.90 L527.49,418.85 L529.72,416.71 L531.95,414.47 L534.17,412.15 L536.40,409.74 L538.63,407.24 L540.85,404.66 L543.08,402.02 L545.31,399.29 L547.54,396.51 L549.76,393.65 L551.99,390.75 L554.22,387.79 L556.45,384.78 L558.67,381.74 L560.90,378.67 L563.13,375.58 L565.35,372.49 L567.58,369.38 L569.81,366.30 L572.04,363.22 L574.26,360.16 L576.49,357.16 L578.72,354.19 L580.95,351.27 L583.17,348.41 L585.40,345.61 L587.63,342.87 L589.85,340.21 L592.08,337.62 L594.31,335.12 L596.54,332.70 L598.76,330.35 L600.99,328.09 L603.22,325.92 L605.45,323.83 L607.67,321.81 L609.90,319.89 L612.13,318.04 L614.35,316.28 L616.58,314.58 L618.81,312.97 L621.04,311.42 L623.26,309.96 L625.49,308.55 L627.72,307.22 L629.95,305.95 L632.17,304.74 L634.40,303.60 L636.63,302.50 L638.85,301.46 L641.08,300.48 L643.31,299.56 L645.54,298.67 L647.76,297.84 L649.99,297.05 L652.22,296.31 L654.45,295.60 L656.67,294.94 L658.90,294.31 L661.13,293.71 L663.35,293.15 L665.58,292.63 L667.81,292.12 L670.04,291.65 L672.26,291.20 L674.49,290.79 L674.49,327.95 L672.26,328.76 L670.04,329.60 L667.81,330.49 L665.58,331.43 L663.35,332.42 L661.13,333.45 L658.90,334.53 L656.67,335.67 L654.45,336.87 L652.22,338.13 L649.99,339.44 L647.76,340.82 L645.54,342.25 L643.31,343.72 L641.08,345.26 L638.85,346.83 L636.63,348.45 L634.40,350.09 L632.17,351.76 L629.95,353.44 L627.72,355.16 L625.49,356.88 L623.26,358.63 L621.04,360.40 L618.81,362.18 L616.58,364.00 L614.35,365.84 L612.13,367.71 L609.90,369.61 L607.67,371.56 L605.45,373.55 L603.22,375.56 L600.99,377.62 L598.76,379.71 L596.54,381.83 L594.31,383.98 L592.08,386.13 L589.85,388.31 L587.63,390.49 L585.40,392.65 L583.17,394.84 L580.95,396.99 L578.72,399.11 L576.49,401.22 L574.26,403.29 L572.04,405.32 L569.81,407.30 L567.58,409.23 L565.35,411.11 L563.13,412.93 L560.90,414.68 L558.67,416.38 L556.45,417.99 L554.22,419.56 L551.99,421.05 L549.76,422.49 L547.54,423.86 L545.31,425.18 L543.08,426.46 L540.85,427.68 L538.63,428.86 L536.40,430.02 L534.17,431.14 L531.95,432.24 L529.72,433.30 L527.49,434.33 L525.26,435.34 L523.04,436.33 L520.81,437.28 L518.58,438.19 L516.35,439.08 L514.13,439.92 L511.90,440.72 L509.67,441.47 L507.45,442.18 L505.22,442.84 L502.99,443.45 L500.76,444.00 L498.54,444.52 L496.31,444.99Z" fill="#318e1c"/>
<path d="M496.31,440.92 L498.54,440.34 L500.76,439.72 L502.99,439.04 L505.22,438.31 L507.45,437.53 L509.67,436.69 L511.90,435.80 L514.13,434.86 L516.35,433.88 L518.58,432.83 L520.81,431.75 L523.04,430.62 L525.26,429.46 L527.49,428.26 L529.72,427.02 L531.95,425.73 L534.17,424.42 L536.40,423.05 L538.63,421.65 L540.85,420.20 L543.08,418.68 L545.31,417.10 L547.54,415.46 L549.76,413.75 L551.99,411.96 L554.22,410.09 L556.45,408.13 L558.67,406.08 L560.90,403.95 L563.13,401.71 L565.35,399.39 L567.58,396.98 L569.81,394.48 L572.04,391.90 L574.26,389.26 L576.49,386.55 L578.72,383.79 L580.95,381.00 L583.17,378.19 L585.40,375.38 L587.63,372.59 L589.85,369.83 L592.08,367.12 L594.31,364.48 L596.54,361.87 L598.76,359.33 L600.99,356.84 L603.22,354.41 L605.45,352.03 L607.67,349.71 L609.90,347.44 L612.13,345.24 L614.35,343.10 L616.58,341.02 L618.81,339.01 L621.04,337.05 L623.26,335.15 L625.49,333.30 L627.72,331.50 L629.95,329.76 L632.17,328.04 L634.40,326.35 L636.63,324.71 L638.85,323.10 L641.08,321.52 L643.31,319.98 L645.54,318.50 L647.76,317.05 L649.99,315.66 L652.22,314.33 L654.45,313.08 L656.67,311.90 L658.90,310.77 L661.13,309.73 L663.35,308.75 L665.58,307.84 L667.81,307.00 L670.04,306.21 L672.26,305.47 L674.49,304.79" fill="none" stroke="#7fa8c8" stroke-width="1.5" stroke-opacity="0.75"/>
<path d="M496.31,440.92 L498.54,440.34 L500.76,439.72 L502.99,439.04 L505.22,438.31 L507.45,437.53 L509.67,436.69 L511.90,435.80 L514.13,434.86 L516.35,433.88 L518.58,432.83 L520.81,431.75 L523.04,430.62 L525.26,429.46 L527.49,428.26 L529.72,427.02 L531.95,425.73 L534.17,424.42 L536.40,423.05 L538.63,421.65 L540.85,420.20 L543.08,418.68 L545.31,417.10 L547.54,415.46 L549.76,413.75 L551.99,411.96 L554.22,410.09 L556.45,408.13 L558.67,406.08 L560.90,403.95 L563.13,401.71 L565.35,399.39 L567.58,396.98 L569.81,394.48 L572.04,391.90 L574.26,389.26 L576.49,386.55 L578.72,383.79 L580.95,381.00 L583.17,378.19 L585.40,375.38 L587.63,372.59 L589.85,369.83 L592.08,367.12 L594.31,364.48 L596.54,361.87 L598.76,359.33 L600.99,356.84 L603.22,354.41 L605.45,352.03 L607.67,349.71 L609.90,347.44 L612.13,345.24 L614.35,343.10 L616.58,341.02 L618.81,339.01 L621.04,337.05 L623.26,335.15 L625.49,333.30 L627.72,331.50 L629.95,329.76 L632.17,328.04 L634.40,326.35 L636.63,324.71 L638.85,323.10 L641.08,321.52 L643.31,319.98 L645.54,318.50 L647.76,317.05 L649.99,315.66 L652.22,314.33 L654.45,313.08 L656.67,311.90 L658.90,310.77 L661.13,309.73 L663.35,308.75 L665.58,307.84 L667.81,307.00 L670.04,306.21 L672.26,305.47 L674.49,304.79 L674.49,329.10 L672.26,329.92 L670.04,330.78 L667.81,331.67 L665.58,332.63 L663.35,333.63 L661.13,334.68 L658.90,335.77 L656.67,336.93 L654.45,338.15 L652.22,339.42 L649.99,340.75 L647.76,342.15 L645.54,343.60 L643.31,345.09 L641.08,346.65 L638.85,348.24 L636.63,349.87 L634.40,351.52 L632.17,353.21 L629.95,354.91 L627.72,356.65 L625.49,358.38 L623.26,360.14 L621.04,361.92 L618.81,363.70 L616.58,365.53 L614.35,367.37 L612.13,369.24 L609.90,371.15 L607.67,373.10 L605.45,375.09 L603.22,377.09 L600.99,379.15 L598.76,381.24 L596.54,383.34 L594.31,385.49 L592.08,387.63 L589.85,389.80 L587.63,391.96 L585.40,394.11 L583.17,396.27 L580.95,398.40 L578.72,400.50 L576.49,402.59 L574.26,404.63 L572.04,406.63 L569.81,408.57 L567.58,410.46 L565.35,412.31 L563.13,414.09 L560.90,415.79 L558.67,417.45 L556.45,419.02 L554.22,420.54 L551.99,421.99 L549.76,423.38 L547.54,424.70 L545.31,425.98 L543.08,427.22 L540.85,428.39 L538.63,429.53 L536.40,430.65 L534.17,431.73 L531.95,432.79 L529.72,433.81 L527.49,434.81 L525.26,435.79 L523.04,436.75 L520.81,437.67 L518.58,438.56 L516.35,439.42 L514.13,440.24 L511.90,441.02 L509.67,441.75 L507.45,442.45 L505.22,443.10 L502.99,443.70 L500.76,444.24 L498.54,444.75 L496.31,445.21Z" fill="#6464ff" fill-opacity="0.22"/>
<path d="M496.31,440.92 L498.54,440.34 L500.76,439.72 L502.99,439.04 L505.22,438.31 L507.45,437.53 L509.67,436.69 L511.90,435.80 L514.13,434.86 L516.35,433.88 L518.58,432.83 L520.81,431.75 L523.04,430.62 L525.26,429.46 L527.49,428.26 L529.72,427.02 L531.95,425.73 L534.17,424.42 L536.40,423.05 L538.63,421.65 L540.85,420.20 L543.08,418.68 L545.31,417.10 L547.54,415.46 L549.76,413.75 L551.99,411.96 L554.22,410.09 L556.45,408.13 L558.67,406.08 L560.90,403.95 L563.13,401.71 L565.35,399.39 L567.58,396.98 L569.81,394.48 L572.04,391.90 L574.26,389.26 L576.49,386.55 L578.72,383.79 L580.95,381.00 L583.17,378.19 L585.40,375.38 L587.63,372.59 L589.85,369.83 L592.08,367.12 L594.31,364.48 L596.54,361.87 L598.76,359.33 L600.99,356.84 L603.22,354.41 L605.45,352.03 L607.67,349.71 L609.90,347.44 L612.13,345.24 L614.35,343.10 L616.58,341.02 L618.81,339.01 L621.04,337.05 L623.26,335.15 L625.49,333.30 L627.72,331.50 L629.95,329.76 L632.17,328.04 L634.40,326.35 L636.63,324.71 L638.85,323.10 L641.08,321.52 L643.31,319.98 L645.54,318.50 L647.76,317.05 L649.99,315.66 L652.22,314.33 L654.45,313.08 L656.67,311.90 L658.90,310.77 L661.13,309.73 L663.35,308.75 L665.58,307.84 L667.81,307.00 L670.04,306.21 L672.26,305.47 L674.49,304.79 L674.49,328.53 L672.26,329.34 L670.04,330.19 L667.81,331.08 L665.58,332.03 L663.35,333.02 L661.13,334.06 L658.90,335.15 L656.67,336.30 L654.45,337.51 L652.22,338.78 L649.99,340.10 L647.76,341.48 L645.54,342.93 L643.31,344.41 L641.08,345.95 L638.85,347.54 L636.63,349.16 L634.40,350.81 L632.17,352.48 L629.95,354.18 L627.72,355.91 L625.49,357.63 L623.26,359.38 L621.04,361.16 L618.81,362.94 L616.58,364.76 L614.35,366.61 L612.13,368.48 L609.90,370.38 L607.67,372.33 L605.45,374.32 L603.22,376.33 L600.99,378.39 L598.76,380.47 L596.54,382.58 L594.31,384.73 L592.08,386.88 L589.85,389.06 L587.63,391.23 L585.40,393.38 L583.17,395.55 L580.95,397.69 L578.72,399.80 L576.49,401.91 L574.26,403.96 L572.04,405.97 L569.81,407.94 L567.58,409.85 L565.35,411.71 L563.13,413.51 L560.90,415.24 L558.67,416.91 L556.45,418.51 L554.22,420.05 L551.99,421.52 L549.76,422.93 L547.54,424.28 L545.31,425.58 L543.08,426.84 L540.85,428.03 L538.63,429.20 L536.40,430.34 L534.17,431.43 L531.95,432.51 L529.72,433.55 L527.49,434.57 L525.26,435.57 L523.04,436.54 L520.81,437.47 L518.58,438.38 L516.35,439.25 L514.13,440.08 L511.90,440.87 L509.67,441.61 L507.45,442.31 L505.22,442.97 L502.99,443.57 L500.76,444.12 L498.54,444.63 L496.31,445.10Z" fill="#6464ff" fill-opacity="0.45"/>
<path d="M496.31,440.92 L498.54,440.34 L500.76,439.72 L502.99,439.04 L505.22,438.31 L507.45,437.53 L509.67,436.69 L511.90,435.80 L514.13,434.86 L516.35,433.88 L518.58,432.83 L520.81,431.75 L523.04,430.62 L525.26,429.46 L527.49,428.26 L529.72,427.02 L531.95,425.73 L534.17,424.42 L536.40,423.05 L538.63,421.65 L540.85,420.20 L543.08,418.68 L545.31,417.10 L547.54,415.46 L549.76,413.75 L551.99,411.96 L554.22,410.09 L556.45,408.13 L558.67,406.08 L560.90,403.95 L563.13,401.71 L565.35,399.39 L567.58,396.98 L569.81,394.48 L572.04,391.90 L574.26,389.26 L576.49,386.55 L578.72,383.79 L580.95,381.00 L583.17,378.19 L585.40,375.38 L587.63,372.59 L589.85,369.83 L592.08,367.12 L594.31,364.48 L596.54,361.87 L598.76,359.33 L600.99,356.84 L603.22,354.41 L605.45,352.03 L607.67,349.71 L609.90,347.44 L612.13,345.24 L614.35,343.10 L616.58,341.02 L618.81,339.01 L621.04,337.05 L623.26,335.15 L625.49,333.30 L627.72,331.50 L629.95,329.76 L632.17,328.04 L634.40,326.35 L636.63,324.71 L638.85,323.10 L641.08,321.52 L643.31,319.98 L645.54,318.50 L647.76,317.05 L649.99,315.66 L652.22,314.33 L654.45,313.08 L656.67,311.90 L658.90,310.77 L661.13,309.73 L663.35,308.75 L665.58,307.84 L667.81,307.00 L670.04,306.21 L672.26,305.47 L674.49,304.79 L674.49,327.95 L672.26,328.76 L670.04,329.60 L667.81,330.49 L665.58,331.43 L663.35,332.42 L661.13,333.45 L658.90,334.53 L656.67,335.67 L654.45,336.87 L652.22,338.13 L649.99,339.44 L647.76,340.82 L645.54,342.25 L643.31,343.72 L641.08,345.26 L638.85,346.83 L636.63,348.45 L634.40,350.09 L632.17,351.76 L629.95,353.44 L627.72,355.16 L625.49,356.88 L623.26,358.63 L621.04,360.40 L618.81,362.18 L616.58,364.00 L614.35,365.84 L612.13,367.71 L609.90,369.61 L607.67,371.56 L605.45,373.55 L603.22,375.56 L600.99,377.62 L598.76,379.71 L596.54,381.83 L594.31,383.98 L592.08,386.13 L589.85,388.31 L587.63,390.49 L585.40,392.65 L583.17,394.84 L580.95,396.99 L578.72,399.11 L576.49,401.22 L574.26,403.29 L572.04,405.32 L569.81,407.30 L567.58,409.23 L565.35,411.11 L563.13,412.93 L560.90,414.68 L558.67,416.38 L556.45,417.99 L554.22,419.56 L551.99,421.05 L549.76,422.49 L547.54,423.86 L545.31,425.18 L543.08,426.46 L540.85,427.68 L538.63,428.86 L536.40,430.02 L534.17,431.14 L531.95,432.24 L529.72,433.30 L527.49,434.33 L525.26,435.34 L523.04,436.33 L520.81,437.28 L518.58,438.19 L516.35,439.08 L514.13,439.92 L511.90,440.72 L509.67,441.47 L507.45,442.18 L505.22,442.84 L502.99,443.45 L500.76,444.00 L498.54,444.52 L496.31,444.99Z" fill="#0f00f5"/>
<path d="M496.31,437.60 L498.54,436.89 L500.76,436.11 L502.99,435.23 L505.22,434.25 L507.45,433.16 L509.67,431.96 L511.90,430.66 L514.13,429.24 L516.35,427.70 L518.58,426.05 L520.81,424.30 L523.04,422.43 L525.26,420.46 L527.49,418.37 L529.72,416.20 L531.95,413.92 L534.17,411.56 L536.40,409.11 L538.63,406.57 L540.85,403.95 L543.08,401.27 L545.31,398.49 L547.54,395.67 L549.76,392.76 L551.99,389.81 L554.22,386.81 L556.45,383.75 L558.67,380.67 L560.90,377.56 L563.13,374.42 L565.35,371.29 L567.58,368.15 L569.81,365.03 L572.04,361.92 L574.26,358.83 L576.49,355.79 L578.72,352.80 L580.95,349.85 L583.17,346.97 L585.40,344.15 L587.63,341.40 L589.85,338.72 L592.08,336.12 L594.31,333.61 L596.54,331.18 L598.76,328.83 L600.99,326.56 L603.22,324.38 L605.45,322.29 L607.67,320.27 L609.90,318.35 L612.13,316.51 L614.35,314.74 L616.58,313.05 L618.81,311.45 L621.04,309.90 L623.26,308.45 L625.49,307.06 L627.72,305.74 L629.95,304.48 L632.17,303.29 L634.40,302.16 L636.63,301.08 L638.85,300.06 L641.08,299.10 L643.31,298.19 L645.54,297.32 L647.76,296.51 L649.99,295.74 L652.22,295.02 L654.45,294.33 L656.67,293.68 L658.90,293.07 L661.13,292.48 L663.35,291.94 L665.58,291.43 L667.81,290.94 L670.04,290.48 L672.26,290.04 L674.49,289.64 L674.49,327.95 L672.26,328.76 L670.04,329.60 L667.81,330.49 L665.58,331.43 L663.35,332.42 L661.13,333.45 L658.90,334.53 L656.67,335.67 L654.45,336.87 L652.22,338.13 L649.99,339.44 L647.76,340.82 L645.54,342.25 L643.31,343.72 L641.08,345.26 L638.85,346.83 L636.63,348.45 L634.40,350.09 L632.17,351.76 L629.95,353.44 L627.72,355.16 L625.49,356.88 L623.26,358.63 L621.04,360.40 L618.81,362.18 L616.58,364.00 L614.35,365.84 L612.13,367.71 L609.90,369.61 L607.67,371.56 L605.45,373.55 L603.22,375.56 L600.99,377.62 L598.76,379.71 L596.54,381.83 L594.31,383.98 L592.08,386.13 L589.85,388.31 L587.63,390.49 L585.40,392.65 L583.17,394.84 L580.95,396.99 L578.72,399.11 L576.49,401.22 L574.26,403.29 L572.04,405.32 L569.81,407.30 L567.58,409.23 L565.35,411.11 L563.13,412.93 L560.90,414.68 L558.67,416.38 L556.45,417.99 L554.22,419.56 L551.99,421.05 L549.76,422.49 L547.54,423.86 L545.31,425.18 L543.08,426.46 L540.85,427.68 L538.63,428.86 L536.40,430.02 L534.17,431.14 L531.95,432.24 L529.72,433.30 L527.49,434.33 L525.26,435.34 L523.04,436.33 L520.81,437.28 L518.58,438.19 L516.35,439.08 L514.13,439.92 L511.90,440.72 L509.67,441.47 L507.45,442.18 L505.22,442.84 L502.99,443.45 L500.76,444.00 L498.54,444.52 L496.31,444.99Z" fill="url(#ng2)"/>
<path d="M496.31,439.26 L498.54,438.62 L500.76,437.92 L502.99,437.14 L505.22,436.28 L507.45,435.34 L509.67,434.33 L511.90,433.23 L514.13,432.05 L516.35,430.79 L518.58,429.44 L520.81,428.02 L523.04,426.53 L525.26,424.96 L527.49,423.31 L529.72,421.61 L531.95,419.83 L534.17,417.99 L536.40,416.08 L538.63,414.11 L540.85,412.07 L543.08,409.97 L545.31,407.79 L547.54,405.57 L549.76,403.26 L551.99,400.89 L554.22,398.45 L556.45,395.94 L558.67,393.38 L560.90,390.75 L563.13,388.07 L565.35,385.34 L567.58,382.56 L569.81,379.76 L572.04,376.91 L574.26,374.05 L576.49,371.17 L578.72,368.30 L580.95,365.43 L583.17,362.58 L585.40,359.76 L587.63,357.00 L589.85,354.28 L592.08,351.62 L594.31,349.04 L596.54,346.52 L598.76,344.08 L600.99,341.70 L603.22,339.39 L605.45,337.16 L607.67,334.99 L609.90,332.89 L612.13,330.87 L614.35,328.92 L616.58,327.03 L618.81,325.23 L621.04,323.48 L623.26,321.80 L625.49,320.18 L627.72,318.62 L629.95,317.12 L632.17,315.66 L634.40,314.26 L636.63,312.89 L638.85,311.58 L641.08,310.31 L643.31,309.09 L645.54,307.91 L647.76,306.78 L649.99,305.70 L652.22,304.68 L654.45,303.70 L656.67,302.79 L658.90,301.92 L661.13,301.10 L663.35,300.35 L665.58,299.63 L667.81,298.97 L670.04,298.34 L672.26,297.76 L674.49,297.21 L674.49,327.95 L672.26,328.76 L670.04,329.60 L667.81,330.49 L665.58,331.43 L663.35,332.42 L661.13,333.45 L658.90,334.53 L656.67,335.67 L654.45,336.87 L652.22,338.13 L649.99,339.44 L647.76,340.82 L645.54,342.25 L643.31,343.72 L641.08,345.26 L638.85,346.83 L636.63,348.45 L634.40,350.09 L632.17,351.76 L629.95,353.44 L627.72,355.16 L625.49,356.88 L623.26,358.63 L621.04,360.40 L618.81,362.18 L616.58,364.00 L614.35,365.84 L612.13,367.71 L609.90,369.61 L607.67,371.56 L605.45,373.55 L603.22,375.56 L600.99,377.62 L598.76,379.71 L596.54,381.83 L594.31,383.98 L592.08,386.13 L589.85,388.31 L587.63,390.49 L585.40,392.65 L583.17,394.84 L580.95,396.99 L578.72,399.11 L576.49,401.22 L574.26,403.29 L572.04,405.32 L569.81,407.30 L567.58,409.23 L565.35,411.11 L563.13,412.93 L560.90,414.68 L558.67,416.38 L556.45,417.99 L554.22,419.56 L551.99,421.05 L549.76,422.49 L547.54,423.86 L545.31,425.18 L543.08,426.46 L540.85,427.68 L538.63,428.86 L536.40,430.02 L534.17,431.14 L531.95,432.24 L529.72,433.30 L527.49,434.33 L525.26,435.34 L523.04,436.33 L520.81,437.28 L518.58,438.19 L516.35,439.08 L514.13,439.92 L511.90,440.72 L509.67,441.47 L507.45,442.18 L505.22,442.84 L502.99,443.45 L500.76,444.00 L498.54,444.52 L496.31,444.99Z" fill="url(#nv2)"/>
<circle cx="149.98" cy="219.91" r="1.55" fill="#a8a8a8"/>
<circle cx="149.98" cy="224.89" r="1.45" fill="#bcbcbc"/>
<circle cx="155.55" cy="216.92" r="1.55" fill="#a8a8a8"/>
<circle cx="155.55" cy="221.91" r="1.45" fill="#bcbcbc"/>
<circle cx="161.13" cy="214.34" r="1.55" fill="#a8a8a8"/>
<circle cx="161.13" cy="219.33" r="1.45" fill="#bcbcbc"/>
<circle cx="166.70" cy="206.00" r="1.55" fill="#a8a8a8"/>
<circle cx="166.70" cy="204.20" r="1.55" fill="#b4b4b4"/>
<circle cx="166.70" cy="215.93" r="1.45" fill="#b8b8b8"/>
<circle cx="166.70" cy="217.93" r="1.45" fill="#c4c4c4"/>
<circle cx="172.27" cy="205.73" r="1.55" fill="#a8a8a8"/>
<circle cx="172.27" cy="203.93" r="1.55" fill="#b4b4b4"/>
<circle cx="172.27" cy="216.47" r="1.45" fill="#b8b8b8"/>
<circle cx="172.27" cy="218.47" r="1.45" fill="#c4c4c4"/>
<circle cx="177.85" cy="200.57" r="1.55" fill="#a8a8a8"/>
<circle cx="177.85" cy="198.77" r="1.55" fill="#b4b4b4"/>
<circle cx="177.85" cy="212.94" r="1.45" fill="#b8b8b8"/>
<circle cx="177.85" cy="214.94" r="1.45" fill="#c4c4c4"/>
<circle cx="183.42" cy="195.14" r="1.55" fill="#a8a8a8"/>
<circle cx="183.42" cy="193.34" r="1.55" fill="#b4b4b4"/>
<circle cx="183.42" cy="209.82" r="1.45" fill="#b8b8b8"/>
<circle cx="183.42" cy="211.82" r="1.45" fill="#c4c4c4"/>
<circle cx="189.00" cy="190.94" r="1.55" fill="#a8a8a8"/>
<circle cx="189.00" cy="189.14" r="1.55" fill="#b4b4b4"/>
<circle cx="189.00" cy="206.84" r="1.45" fill="#b8b8b8"/>
<circle cx="189.00" cy="208.84" r="1.45" fill="#c4c4c4"/>
<circle cx="194.57" cy="179.94" r="1.55" fill="#a8a8a8"/>
<circle cx="194.57" cy="178.14" r="1.55" fill="#b4b4b4"/>
<circle cx="194.57" cy="200.19" r="1.45" fill="#b8b8b8"/>
<circle cx="194.57" cy="202.19" r="1.45" fill="#c4c4c4"/>
<circle cx="200.14" cy="171.94" r="1.55" fill="#a8a8a8"/>
<circle cx="200.14" cy="170.14" r="1.55" fill="#b4b4b4"/>
<circle cx="200.14" cy="195.30" r="1.45" fill="#b8b8b8"/>
<circle cx="200.14" cy="197.30" r="1.45" fill="#c4c4c4"/>
<circle cx="205.72" cy="162.30" r="1.55" fill="#a8a8a8"/>
<circle cx="205.72" cy="160.50" r="1.55" fill="#b4b4b4"/>
<circle cx="205.72" cy="188.11" r="1.45" fill="#b8b8b8"/>
<circle cx="205.72" cy="190.11" r="1.45" fill="#c4c4c4"/>
<circle cx="211.29" cy="146.15" r="1.55" fill="#a8a8a8"/>
<circle cx="211.29" cy="144.35" r="1.55" fill="#b4b4b4"/>
<circle cx="211.29" cy="179.29" r="1.45" fill="#b8b8b8"/>
<circle cx="211.29" cy="181.29" r="1.45" fill="#c4c4c4"/>
<circle cx="216.86" cy="140.59" r="1.55" fill="#a8a8a8"/>
<circle cx="216.86" cy="138.79" r="1.55" fill="#b4b4b4"/>
<circle cx="216.86" cy="172.09" r="1.45" fill="#b8b8b8"/>
<circle cx="216.86" cy="174.09" r="1.45" fill="#c4c4c4"/>
<circle cx="222.44" cy="137.33" r="1.55" fill="#a8a8a8"/>
<circle cx="222.44" cy="135.53" r="1.55" fill="#b4b4b4"/>
<circle cx="222.44" cy="168.16" r="1.45" fill="#b8b8b8"/>
<circle cx="222.44" cy="170.16" r="1.45" fill="#c4c4c4"/>
<circle cx="228.01" cy="126.20" r="1.55" fill="#a8a8a8"/>
<circle cx="228.01" cy="124.40" r="1.55" fill="#b4b4b4"/>
<circle cx="228.01" cy="160.15" r="1.45" fill="#b8b8b8"/>
<circle cx="228.01" cy="162.15" r="1.45" fill="#c4c4c4"/>
<circle cx="233.59" cy="118.87" r="1.55" fill="#a8a8a8"/>
<circle cx="233.59" cy="117.07" r="1.55" fill="#b4b4b4"/>
<circle cx="233.59" cy="151.33" r="1.45" fill="#b8b8b8"/>
<circle cx="233.59" cy="153.33" r="1.45" fill="#c4c4c4"/>
<circle cx="239.16" cy="113.17" r="1.55" fill="#a8a8a8"/>
<circle cx="239.16" cy="111.37" r="1.55" fill="#b4b4b4"/>
<circle cx="239.16" cy="140.74" r="1.45" fill="#b8b8b8"/>
<circle cx="239.16" cy="142.74" r="1.45" fill="#c4c4c4"/>
<circle cx="244.73" cy="109.10" r="1.55" fill="#a8a8a8"/>
<circle cx="244.73" cy="107.30" r="1.55" fill="#b4b4b4"/>
<circle cx="244.73" cy="133.82" r="1.45" fill="#b8b8b8"/>
<circle cx="244.73" cy="135.82" r="1.45" fill="#c4c4c4"/>
<circle cx="250.31" cy="104.08" r="1.55" fill="#a8a8a8"/>
<circle cx="250.31" cy="102.28" r="1.55" fill="#b4b4b4"/>
<circle cx="250.31" cy="125.81" r="1.45" fill="#b8b8b8"/>
<circle cx="250.31" cy="127.81" r="1.45" fill="#c4c4c4"/>
<circle cx="255.88" cy="100.55" r="1.55" fill="#a8a8a8"/>
<circle cx="255.88" cy="98.75" r="1.55" fill="#b4b4b4"/>
<circle cx="255.88" cy="117.67" r="1.45" fill="#b8b8b8"/>
<circle cx="255.88" cy="119.67" r="1.45" fill="#c4c4c4"/>
<path d="M77.52,234.01 L79.75,233.67 L81.98,233.32 L84.21,232.94 L86.44,232.54 L88.67,232.11 L90.90,231.66 L93.12,231.18 L95.35,230.68 L97.58,230.14 L99.81,229.58 L102.04,228.98 L104.27,228.35 L106.50,227.68 L108.73,226.97 L110.96,226.22 L113.19,225.43 L115.42,224.60 L117.65,223.73 L119.88,222.81 L122.11,221.83 L124.34,220.81 L126.57,219.74 L128.80,218.61 L131.03,217.43 L133.26,216.19 L135.49,214.90 L137.72,213.54 L139.95,212.12 L142.18,210.64 L144.40,209.09 L146.63,207.48 L148.86,205.81 L151.09,204.06 L153.32,202.26 L155.55,200.39 L157.78,198.45 L160.01,196.44 L162.24,194.38 L164.47,192.25 L166.70,190.06 L168.93,187.81 L171.16,185.50 L173.39,183.14 L175.62,180.73 L177.85,178.27 L180.08,175.76 L182.31,173.22 L184.54,170.64 L186.77,168.03 L189.00,165.39 L191.22,162.73 L193.45,160.05 L195.68,157.36 L197.91,154.67 L200.14,151.97 L202.37,149.29 L204.60,146.61 L206.83,143.94 L209.06,141.30 L211.29,138.69 L213.52,136.10 L215.75,133.55 L217.98,131.04 L220.21,128.57 L222.44,126.16 L224.67,123.79 L226.90,121.47 L229.13,119.21 L231.36,117.02 L233.59,114.88 L235.82,112.80 L238.05,110.79 L240.28,108.84 L242.50,106.96 L244.73,105.14 L246.96,103.39 L249.19,101.71 L251.42,100.09 L253.65,98.53 L255.88,97.04" fill="none" stroke="#43893a" stroke-width="1.15"/>
<path d="M77.52,233.87 L79.75,233.60 L81.98,233.32 L84.21,233.03 L86.44,232.72 L88.67,232.40 L90.90,232.06 L93.12,231.71 L95.35,231.34 L97.58,230.95 L99.81,230.54 L102.04,230.12 L104.27,229.68 L106.50,229.21 L108.73,228.73 L110.96,228.23 L113.19,227.70 L115.42,227.15 L117.65,226.57 L119.88,225.97 L122.11,225.34 L124.34,224.69 L126.57,224.01 L128.80,223.30 L131.03,222.56 L133.26,221.79 L135.49,220.99 L137.72,220.16 L139.95,219.29 L142.18,218.39 L144.40,217.46 L146.63,216.49 L148.86,215.48 L151.09,214.44 L153.32,213.35 L155.55,212.23 L157.78,211.07 L160.01,209.87 L162.24,208.63 L164.47,207.35 L166.70,206.03 L168.93,204.66 L171.16,203.26 L173.39,201.81 L175.62,200.32 L177.85,198.78 L180.08,197.21 L182.31,195.59 L184.54,193.94 L186.77,192.24 L189.00,190.50 L191.22,188.73 L193.45,186.91 L195.68,185.06 L197.91,183.17 L200.14,181.25 L202.37,179.30 L204.60,177.31 L206.83,175.30 L209.06,173.25 L211.29,171.18 L213.52,169.09 L215.75,166.98 L217.98,164.84 L220.21,162.69 L222.44,160.53 L224.67,158.35 L226.90,156.17 L229.13,153.98 L231.36,151.79 L233.59,149.59 L235.82,147.40 L238.05,145.21 L240.28,143.03 L242.50,140.86 L244.73,138.70 L246.96,136.55 L249.19,134.43 L251.42,132.32 L253.65,130.23 L255.88,128.17" fill="none" stroke="#2a2aaa" stroke-width="1.7"/>
<path d="M149.98,220.71V223.69M147.68,220.71H152.28M147.68,223.69H152.28" stroke="#111" stroke-width="1.4" fill="none"/>
<path d="M155.55,217.72V220.71M153.25,217.72H157.85M153.25,220.71H157.85" stroke="#111" stroke-width="1.4" fill="none"/>
<path d="M161.13,215.14V218.13M158.83,215.14H163.43M158.83,218.13H163.43" stroke="#111" stroke-width="1.4" fill="none"/>
<path d="M166.70,207.00V214.33M164.40,207.00H169.00M164.40,214.33H169.00" stroke="#111" stroke-width="1.4" fill="none"/>
<path d="M172.27,206.73V214.87M169.97,206.73H174.57M169.97,214.87H174.57" stroke="#111" stroke-width="1.4" fill="none"/>
<path d="M177.85,201.57V211.34M175.55,201.57H180.15M175.55,211.34H180.15" stroke="#111" stroke-width="1.4" fill="none"/>
<path d="M183.42,196.14V208.22M181.12,196.14H185.72M181.12,208.22H185.72" stroke="#111" stroke-width="1.4" fill="none"/>
<path d="M189.00,191.94V205.24M186.70,191.94H191.30M186.70,205.24H191.30" stroke="#111" stroke-width="1.4" fill="none"/>
<path d="M194.57,180.94V198.59M192.27,180.94H196.87M192.27,198.59H196.87" stroke="#111" stroke-width="1.4" fill="none"/>
<path d="M200.14,172.94V193.70M197.84,172.94H202.44M197.84,193.70H202.44" stroke="#111" stroke-width="1.4" fill="none"/>
<path d="M205.72,163.30V186.51M203.42,163.30H208.02M203.42,186.51H208.02" stroke="#111" stroke-width="1.4" fill="none"/>
<path d="M211.29,147.15V177.69M208.99,147.15H213.59M208.99,177.69H213.59" stroke="#111" stroke-width="1.4" fill="none"/>
<path d="M216.86,141.59V170.49M214.56,141.59H219.16M214.56,170.49H219.16" stroke="#111" stroke-width="1.4" fill="none"/>
<path d="M222.44,138.33V166.56M220.14,138.33H224.74M220.14,166.56H224.74" stroke="#111" stroke-width="1.4" fill="none"/>
<path d="M228.01,127.20V158.55M225.71,127.20H230.31M225.71,158.55H230.31" stroke="#111" stroke-width="1.4" fill="none"/>
<path d="M233.59,119.87V149.73M231.29,119.87H235.89M231.29,149.73H235.89" stroke="#111" stroke-width="1.4" fill="none"/>
<path d="M239.16,114.17V139.14M236.86,114.17H241.46M236.86,139.14H241.46" stroke="#111" stroke-width="1.4" fill="none"/>
<path d="M244.73,110.10V132.22M242.43,110.10H247.03M242.43,132.22H247.03" stroke="#111" stroke-width="1.4" fill="none"/>
<path d="M250.31,105.08V124.21M248.01,105.08H252.61M248.01,124.21H252.61" stroke="#111" stroke-width="1.4" fill="none"/>
<path d="M255.88,101.55V116.07M253.58,101.55H258.18M253.58,116.07H258.18" stroke="#111" stroke-width="1.4" fill="none"/>
<circle cx="77.52" cy="234.69" r="1.75" fill="#fff" stroke="#111" stroke-width="1.3"/>
<circle cx="83.09" cy="235.23" r="1.75" fill="#fff" stroke="#111" stroke-width="1.3"/>
<circle cx="88.67" cy="235.50" r="1.75" fill="#fff" stroke="#111" stroke-width="1.3"/>
<circle cx="94.24" cy="234.96" r="1.75" fill="#fff" stroke="#111" stroke-width="1.3"/>
<circle cx="99.81" cy="234.28" r="1.75" fill="#fff" stroke="#111" stroke-width="1.3"/>
<circle cx="105.39" cy="233.19" r="1.75" fill="#fff" stroke="#111" stroke-width="1.3"/>
<circle cx="110.96" cy="231.97" r="1.75" fill="#fff" stroke="#111" stroke-width="1.3"/>
<circle cx="116.54" cy="231.16" r="1.75" fill="#fff" stroke="#111" stroke-width="1.3"/>
<circle cx="122.11" cy="227.90" r="1.75" fill="#fff" stroke="#111" stroke-width="1.3"/>
<circle cx="127.68" cy="228.17" r="1.75" fill="#fff" stroke="#111" stroke-width="1.3"/>
<circle cx="133.26" cy="227.36" r="1.75" fill="#fff" stroke="#111" stroke-width="1.3"/>
<circle cx="138.83" cy="226.00" r="1.75" fill="#fff" stroke="#111" stroke-width="1.3"/>
<circle cx="144.40" cy="224.10" r="1.75" fill="#fff" stroke="#111" stroke-width="1.3"/>
<circle cx="149.98" cy="222.20" r="1.75" fill="#fff" stroke="#111" stroke-width="1.3"/>
<circle cx="155.55" cy="219.21" r="1.75" fill="#fff" stroke="#111" stroke-width="1.3"/>
<circle cx="161.13" cy="216.64" r="1.75" fill="#fff" stroke="#111" stroke-width="1.3"/>
<circle cx="166.70" cy="210.66" r="1.75" fill="#fff" stroke="#111" stroke-width="1.3"/>
<circle cx="172.27" cy="210.66" r="1.75" fill="#fff" stroke="#111" stroke-width="1.3"/>
<circle cx="177.85" cy="206.32" r="1.75" fill="#fff" stroke="#111" stroke-width="1.3"/>
<circle cx="183.42" cy="202.25" r="1.75" fill="#fff" stroke="#111" stroke-width="1.3"/>
<circle cx="189.00" cy="197.36" r="1.75" fill="#fff" stroke="#111" stroke-width="1.3"/>
<circle cx="194.57" cy="189.63" r="1.75" fill="#fff" stroke="#111" stroke-width="1.3"/>
<circle cx="200.14" cy="183.66" r="1.75" fill="#fff" stroke="#111" stroke-width="1.3"/>
<circle cx="205.72" cy="175.24" r="1.75" fill="#fff" stroke="#111" stroke-width="1.3"/>
<circle cx="211.29" cy="160.45" r="1.75" fill="#fff" stroke="#111" stroke-width="1.3"/>
<circle cx="216.86" cy="156.11" r="1.75" fill="#fff" stroke="#111" stroke-width="1.3"/>
<circle cx="222.44" cy="152.04" r="1.75" fill="#fff" stroke="#111" stroke-width="1.3"/>
<circle cx="228.01" cy="142.81" r="1.75" fill="#fff" stroke="#111" stroke-width="1.3"/>
<circle cx="233.59" cy="134.26" r="1.75" fill="#fff" stroke="#111" stroke-width="1.3"/>
<circle cx="239.16" cy="126.52" r="1.75" fill="#fff" stroke="#111" stroke-width="1.3"/>
<circle cx="244.73" cy="120.69" r="1.75" fill="#fff" stroke="#111" stroke-width="1.3"/>
<circle cx="250.31" cy="114.17" r="1.75" fill="#fff" stroke="#111" stroke-width="1.3"/>
<circle cx="255.88" cy="109.01" r="1.75" fill="#fff" stroke="#111" stroke-width="1.3"/>
<circle cx="300.55" cy="230.29" r="1.55" fill="#a8a8a8"/>
<circle cx="300.55" cy="228.49" r="1.55" fill="#b4b4b4"/>
<circle cx="300.55" cy="238.05" r="1.45" fill="#b8b8b8"/>
<circle cx="300.55" cy="240.05" r="1.45" fill="#c4c4c4"/>
<circle cx="333.95" cy="215.16" r="1.55" fill="#a8a8a8"/>
<circle cx="333.95" cy="220.55" r="1.45" fill="#bcbcbc"/>
<circle cx="339.52" cy="215.16" r="1.55" fill="#a8a8a8"/>
<circle cx="339.52" cy="220.55" r="1.45" fill="#bcbcbc"/>
<circle cx="345.09" cy="214.48" r="1.55" fill="#a8a8a8"/>
<circle cx="345.09" cy="219.87" r="1.45" fill="#bcbcbc"/>
<circle cx="350.66" cy="210.95" r="1.55" fill="#a8a8a8"/>
<circle cx="350.66" cy="216.34" r="1.45" fill="#bcbcbc"/>
<circle cx="356.23" cy="207.56" r="1.55" fill="#a8a8a8"/>
<circle cx="356.23" cy="212.95" r="1.45" fill="#bcbcbc"/>
<circle cx="361.80" cy="201.66" r="1.55" fill="#a8a8a8"/>
<circle cx="361.80" cy="199.86" r="1.55" fill="#b4b4b4"/>
<circle cx="361.80" cy="209.69" r="1.45" fill="#b8b8b8"/>
<circle cx="361.80" cy="211.69" r="1.45" fill="#c4c4c4"/>
<circle cx="367.36" cy="197.59" r="1.55" fill="#a8a8a8"/>
<circle cx="367.36" cy="195.79" r="1.55" fill="#b4b4b4"/>
<circle cx="367.36" cy="205.61" r="1.45" fill="#b8b8b8"/>
<circle cx="367.36" cy="207.61" r="1.45" fill="#c4c4c4"/>
<circle cx="372.93" cy="191.48" r="1.55" fill="#a8a8a8"/>
<circle cx="372.93" cy="189.68" r="1.55" fill="#b4b4b4"/>
<circle cx="372.93" cy="201.54" r="1.45" fill="#b8b8b8"/>
<circle cx="372.93" cy="203.54" r="1.45" fill="#c4c4c4"/>
<circle cx="378.50" cy="179.94" r="1.55" fill="#a8a8a8"/>
<circle cx="378.50" cy="178.14" r="1.55" fill="#b4b4b4"/>
<circle cx="378.50" cy="190.69" r="1.45" fill="#b8b8b8"/>
<circle cx="378.50" cy="192.69" r="1.45" fill="#c4c4c4"/>
<circle cx="384.07" cy="175.33" r="1.55" fill="#a8a8a8"/>
<circle cx="384.07" cy="173.53" r="1.55" fill="#b4b4b4"/>
<circle cx="384.07" cy="192.04" r="1.45" fill="#b8b8b8"/>
<circle cx="384.07" cy="194.04" r="1.45" fill="#c4c4c4"/>
<circle cx="389.64" cy="167.46" r="1.55" fill="#a8a8a8"/>
<circle cx="389.64" cy="165.66" r="1.55" fill="#b4b4b4"/>
<circle cx="389.64" cy="184.44" r="1.45" fill="#b8b8b8"/>
<circle cx="389.64" cy="186.44" r="1.45" fill="#c4c4c4"/>
<circle cx="395.20" cy="158.36" r="1.55" fill="#a8a8a8"/>
<circle cx="395.20" cy="156.56" r="1.55" fill="#b4b4b4"/>
<circle cx="395.20" cy="177.25" r="1.45" fill="#b8b8b8"/>
<circle cx="395.20" cy="179.25" r="1.45" fill="#c4c4c4"/>
<circle cx="400.77" cy="147.64" r="1.55" fill="#a8a8a8"/>
<circle cx="400.77" cy="145.84" r="1.55" fill="#b4b4b4"/>
<circle cx="400.77" cy="169.51" r="1.45" fill="#b8b8b8"/>
<circle cx="400.77" cy="171.51" r="1.45" fill="#c4c4c4"/>
<circle cx="406.34" cy="135.56" r="1.55" fill="#a8a8a8"/>
<circle cx="406.34" cy="133.76" r="1.55" fill="#b4b4b4"/>
<circle cx="406.34" cy="157.44" r="1.45" fill="#b8b8b8"/>
<circle cx="406.34" cy="159.44" r="1.45" fill="#c4c4c4"/>
<circle cx="411.91" cy="127.01" r="1.55" fill="#a8a8a8"/>
<circle cx="411.91" cy="125.21" r="1.55" fill="#b4b4b4"/>
<circle cx="411.91" cy="149.02" r="1.45" fill="#b8b8b8"/>
<circle cx="411.91" cy="151.02" r="1.45" fill="#c4c4c4"/>
<circle cx="417.48" cy="116.16" r="1.55" fill="#a8a8a8"/>
<circle cx="417.48" cy="114.36" r="1.55" fill="#b4b4b4"/>
<circle cx="417.48" cy="139.11" r="1.45" fill="#b8b8b8"/>
<circle cx="417.48" cy="141.11" r="1.45" fill="#c4c4c4"/>
<circle cx="423.05" cy="99.46" r="1.55" fill="#a8a8a8"/>
<circle cx="423.05" cy="97.66" r="1.55" fill="#b4b4b4"/>
<circle cx="423.05" cy="121.06" r="1.45" fill="#b8b8b8"/>
<circle cx="423.05" cy="123.06" r="1.45" fill="#c4c4c4"/>
<circle cx="428.61" cy="99.46" r="1.55" fill="#a8a8a8"/>
<circle cx="428.61" cy="97.66" r="1.55" fill="#b4b4b4"/>
<circle cx="428.61" cy="118.76" r="1.45" fill="#b8b8b8"/>
<circle cx="428.61" cy="120.76" r="1.45" fill="#c4c4c4"/>
<circle cx="434.18" cy="107.06" r="1.55" fill="#a8a8a8"/>
<circle cx="434.18" cy="105.26" r="1.55" fill="#b4b4b4"/>
<circle cx="434.18" cy="123.64" r="1.45" fill="#b8b8b8"/>
<circle cx="434.18" cy="125.64" r="1.45" fill="#c4c4c4"/>
<circle cx="439.75" cy="100.96" r="1.55" fill="#a8a8a8"/>
<circle cx="439.75" cy="99.16" r="1.55" fill="#b4b4b4"/>
<circle cx="439.75" cy="115.23" r="1.45" fill="#b8b8b8"/>
<circle cx="439.75" cy="117.23" r="1.45" fill="#c4c4c4"/>
<circle cx="445.32" cy="99.60" r="1.55" fill="#a8a8a8"/>
<circle cx="445.32" cy="97.80" r="1.55" fill="#b4b4b4"/>
<circle cx="445.32" cy="111.70" r="1.45" fill="#b8b8b8"/>
<circle cx="445.32" cy="113.70" r="1.45" fill="#c4c4c4"/>
<circle cx="450.89" cy="95.94" r="1.55" fill="#a8a8a8"/>
<circle cx="450.89" cy="94.14" r="1.55" fill="#b4b4b4"/>
<circle cx="450.89" cy="106.54" r="1.45" fill="#b8b8b8"/>
<circle cx="450.89" cy="108.54" r="1.45" fill="#c4c4c4"/>
<circle cx="456.45" cy="95.53" r="1.55" fill="#a8a8a8"/>
<circle cx="456.45" cy="93.73" r="1.55" fill="#b4b4b4"/>
<circle cx="456.45" cy="105.19" r="1.45" fill="#b8b8b8"/>
<circle cx="456.45" cy="107.19" r="1.45" fill="#c4c4c4"/>
<circle cx="462.02" cy="93.49" r="1.55" fill="#a8a8a8"/>
<circle cx="462.02" cy="91.69" r="1.55" fill="#b4b4b4"/>
<circle cx="462.02" cy="102.88" r="1.45" fill="#b8b8b8"/>
<circle cx="462.02" cy="104.88" r="1.45" fill="#c4c4c4"/>
<circle cx="467.59" cy="91.05" r="1.55" fill="#a8a8a8"/>
<circle cx="467.59" cy="89.25" r="1.55" fill="#b4b4b4"/>
<circle cx="467.59" cy="100.03" r="1.45" fill="#b8b8b8"/>
<circle cx="467.59" cy="102.03" r="1.45" fill="#c4c4c4"/>
<path d="M289.41,229.53 L291.64,228.90 L293.86,228.24 L296.09,227.54 L298.32,226.80 L300.55,226.01 L302.77,225.18 L305.00,224.31 L307.23,223.38 L309.45,222.40 L311.68,221.38 L313.91,220.29 L316.14,219.15 L318.36,217.95 L320.59,216.69 L322.82,215.37 L325.05,213.99 L327.27,212.54 L329.50,211.02 L331.73,209.44 L333.95,207.78 L336.18,206.06 L338.41,204.27 L340.64,202.41 L342.86,200.48 L345.09,198.47 L347.32,196.40 L349.55,194.27 L351.77,192.06 L354.00,189.80 L356.23,187.47 L358.45,185.08 L360.68,182.64 L362.91,180.14 L365.14,177.60 L367.36,175.01 L369.59,172.38 L371.82,169.72 L374.05,167.03 L376.27,164.31 L378.50,161.58 L380.73,158.83 L382.95,156.08 L385.18,153.32 L387.41,150.58 L389.64,147.84 L391.86,145.12 L394.09,142.42 L396.32,139.75 L398.55,137.12 L400.77,134.52 L403.00,131.97 L405.23,129.47 L407.45,127.01 L409.68,124.62 L411.91,122.28 L414.14,120.00 L416.36,117.79 L418.59,115.64 L420.82,113.56 L423.05,111.54 L425.27,109.60 L427.50,107.72 L429.73,105.92 L431.95,104.19 L434.18,102.52 L436.41,100.92 L438.64,99.40 L440.86,97.93 L443.09,96.54 L445.32,95.21 L447.55,93.94 L449.77,92.73 L452.00,91.58 L454.23,90.48 L456.45,89.44 L458.68,88.46 L460.91,87.52 L463.14,86.64 L465.36,85.80 L467.59,85.01" fill="none" stroke="#43893a" stroke-width="1.15"/>
<path d="M289.41,228.99 L291.64,228.46 L293.86,227.91 L296.09,227.34 L298.32,226.74 L300.55,226.11 L302.77,225.46 L305.00,224.77 L307.23,224.05 L309.45,223.31 L311.68,222.53 L313.91,221.71 L316.14,220.87 L318.36,219.98 L320.59,219.06 L322.82,218.10 L325.05,217.11 L327.27,216.07 L329.50,215.00 L331.73,213.89 L333.95,212.73 L336.18,211.53 L338.41,210.29 L340.64,209.00 L342.86,207.68 L345.09,206.31 L347.32,204.89 L349.55,203.43 L351.77,201.93 L354.00,200.38 L356.23,198.79 L358.45,197.16 L360.68,195.49 L362.91,193.77 L365.14,192.01 L367.36,190.22 L369.59,188.38 L371.82,186.51 L374.05,184.60 L376.27,182.66 L378.50,180.69 L380.73,178.69 L382.95,176.66 L385.18,174.61 L387.41,172.53 L389.64,170.44 L391.86,168.33 L394.09,166.20 L396.32,164.06 L398.55,161.91 L400.77,159.76 L403.00,157.61 L405.23,155.45 L407.45,153.30 L409.68,151.15 L411.91,149.02 L414.14,146.89 L416.36,144.78 L418.59,142.69 L420.82,140.62 L423.05,138.58 L425.27,136.56 L427.50,134.56 L429.73,132.60 L431.95,130.67 L434.18,128.77 L436.41,126.91 L438.64,125.08 L440.86,123.29 L443.09,121.55 L445.32,119.84 L447.55,118.18 L449.77,116.55 L452.00,114.97 L454.23,113.44 L456.45,111.95 L458.68,110.50 L460.91,109.09 L463.14,107.73 L465.36,106.42 L467.59,105.14" fill="none" stroke="#2a2aaa" stroke-width="1.7"/>
<path d="M300.55,231.29V236.45M298.25,231.29H302.85M298.25,236.45H302.85" stroke="#111" stroke-width="1.4" fill="none"/>
<path d="M333.95,215.96V219.35M331.65,215.96H336.25M331.65,219.35H336.25" stroke="#111" stroke-width="1.4" fill="none"/>
<path d="M339.52,215.96V219.35M337.22,215.96H341.82M337.22,219.35H341.82" stroke="#111" stroke-width="1.4" fill="none"/>
<path d="M345.09,215.28V218.67M342.79,215.28H347.39M342.79,218.67H347.39" stroke="#111" stroke-width="1.4" fill="none"/>
<path d="M350.66,211.75V215.14M348.36,211.75H352.96M348.36,215.14H352.96" stroke="#111" stroke-width="1.4" fill="none"/>
<path d="M356.23,208.36V211.75M353.93,208.36H358.53M353.93,211.75H358.53" stroke="#111" stroke-width="1.4" fill="none"/>
<path d="M361.80,202.66V208.09M359.50,202.66H364.10M359.50,208.09H364.10" stroke="#111" stroke-width="1.4" fill="none"/>
<path d="M367.36,198.59V204.01M365.06,198.59H369.66M365.06,204.01H369.66" stroke="#111" stroke-width="1.4" fill="none"/>
<path d="M372.93,192.48V199.94M370.63,192.48H375.23M370.63,199.94H375.23" stroke="#111" stroke-width="1.4" fill="none"/>
<path d="M378.50,180.94V189.09M376.20,180.94H380.80M376.20,189.09H380.80" stroke="#111" stroke-width="1.4" fill="none"/>
<path d="M384.07,176.33V190.44M381.77,176.33H386.37M381.77,190.44H386.37" stroke="#111" stroke-width="1.4" fill="none"/>
<path d="M389.64,168.46V182.84M387.34,168.46H391.94M387.34,182.84H391.94" stroke="#111" stroke-width="1.4" fill="none"/>
<path d="M395.20,159.36V175.65M392.90,159.36H397.50M392.90,175.65H397.50" stroke="#111" stroke-width="1.4" fill="none"/>
<path d="M400.77,148.64V167.91M398.47,148.64H403.07M398.47,167.91H403.07" stroke="#111" stroke-width="1.4" fill="none"/>
<path d="M406.34,136.56V155.84M404.04,136.56H408.64M404.04,155.84H408.64" stroke="#111" stroke-width="1.4" fill="none"/>
<path d="M411.91,128.01V147.42M409.61,128.01H414.21M409.61,147.42H414.21" stroke="#111" stroke-width="1.4" fill="none"/>
<path d="M417.48,117.16V137.51M415.18,117.16H419.78M415.18,137.51H419.78" stroke="#111" stroke-width="1.4" fill="none"/>
<path d="M423.05,100.46V119.46M420.75,100.46H425.35M420.75,119.46H425.35" stroke="#111" stroke-width="1.4" fill="none"/>
<path d="M428.61,100.46V117.16M426.31,100.46H430.91M426.31,117.16H430.91" stroke="#111" stroke-width="1.4" fill="none"/>
<path d="M434.18,108.06V122.04M431.88,108.06H436.48M431.88,122.04H436.48" stroke="#111" stroke-width="1.4" fill="none"/>
<path d="M439.75,101.96V113.63M437.45,101.96H442.05M437.45,113.63H442.05" stroke="#111" stroke-width="1.4" fill="none"/>
<path d="M445.32,100.60V110.10M443.02,100.60H447.62M443.02,110.10H447.62" stroke="#111" stroke-width="1.4" fill="none"/>
<path d="M450.89,96.94V104.94M448.59,96.94H453.19M448.59,104.94H453.19" stroke="#111" stroke-width="1.4" fill="none"/>
<path d="M456.45,96.53V103.59M454.15,96.53H458.75M454.15,103.59H458.75" stroke="#111" stroke-width="1.4" fill="none"/>
<path d="M462.02,94.49V101.28M459.72,94.49H464.32M459.72,101.28H464.32" stroke="#111" stroke-width="1.4" fill="none"/>
<path d="M467.59,92.05V98.43M465.29,92.05H469.89M465.29,98.43H469.89" stroke="#111" stroke-width="1.4" fill="none"/>
<circle cx="289.41" cy="230.34" r="1.75" fill="#fff" stroke="#111" stroke-width="1.3"/>
<circle cx="294.98" cy="231.56" r="1.75" fill="#fff" stroke="#111" stroke-width="1.3"/>
<circle cx="300.55" cy="233.74" r="1.75" fill="#fff" stroke="#111" stroke-width="1.3"/>
<circle cx="306.11" cy="230.34" r="1.75" fill="#fff" stroke="#111" stroke-width="1.3"/>
<circle cx="311.68" cy="229.66" r="1.75" fill="#fff" stroke="#111" stroke-width="1.3"/>
<circle cx="317.25" cy="227.76" r="1.75" fill="#fff" stroke="#111" stroke-width="1.3"/>
<circle cx="322.82" cy="225.86" r="1.75" fill="#fff" stroke="#111" stroke-width="1.3"/>
<circle cx="328.39" cy="223.96" r="1.75" fill="#fff" stroke="#111" stroke-width="1.3"/>
<circle cx="333.95" cy="217.72" r="1.75" fill="#fff" stroke="#111" stroke-width="1.3"/>
<circle cx="339.52" cy="217.72" r="1.75" fill="#fff" stroke="#111" stroke-width="1.3"/>
<circle cx="345.09" cy="217.04" r="1.75" fill="#fff" stroke="#111" stroke-width="1.3"/>
<circle cx="350.66" cy="213.51" r="1.75" fill="#fff" stroke="#111" stroke-width="1.3"/>
<circle cx="356.23" cy="210.12" r="1.75" fill="#fff" stroke="#111" stroke-width="1.3"/>
<circle cx="361.80" cy="205.51" r="1.75" fill="#fff" stroke="#111" stroke-width="1.3"/>
<circle cx="367.36" cy="201.03" r="1.75" fill="#fff" stroke="#111" stroke-width="1.3"/>
<circle cx="372.93" cy="196.28" r="1.75" fill="#fff" stroke="#111" stroke-width="1.3"/>
<circle cx="378.50" cy="185.29" r="1.75" fill="#fff" stroke="#111" stroke-width="1.3"/>
<circle cx="384.07" cy="183.66" r="1.75" fill="#fff" stroke="#111" stroke-width="1.3"/>
<circle cx="389.64" cy="175.65" r="1.75" fill="#fff" stroke="#111" stroke-width="1.3"/>
<circle cx="395.20" cy="167.51" r="1.75" fill="#fff" stroke="#111" stroke-width="1.3"/>
<circle cx="400.77" cy="158.55" r="1.75" fill="#fff" stroke="#111" stroke-width="1.3"/>
<circle cx="406.34" cy="145.66" r="1.75" fill="#fff" stroke="#111" stroke-width="1.3"/>
<circle cx="411.91" cy="137.51" r="1.75" fill="#fff" stroke="#111" stroke-width="1.3"/>
<circle cx="417.48" cy="127.34" r="1.75" fill="#fff" stroke="#111" stroke-width="1.3"/>
<circle cx="423.05" cy="110.10" r="1.75" fill="#fff" stroke="#111" stroke-width="1.3"/>
<circle cx="428.61" cy="109.29" r="1.75" fill="#fff" stroke="#111" stroke-width="1.3"/>
<circle cx="434.18" cy="115.12" r="1.75" fill="#fff" stroke="#111" stroke-width="1.3"/>
<circle cx="439.75" cy="107.66" r="1.75" fill="#fff" stroke="#111" stroke-width="1.3"/>
<circle cx="445.32" cy="105.62" r="1.75" fill="#fff" stroke="#111" stroke-width="1.3"/>
<circle cx="450.89" cy="101.55" r="1.75" fill="#fff" stroke="#111" stroke-width="1.3"/>
<circle cx="456.45" cy="100.06" r="1.75" fill="#fff" stroke="#111" stroke-width="1.3"/>
<circle cx="462.02" cy="98.16" r="1.75" fill="#fff" stroke="#111" stroke-width="1.3"/>
<circle cx="467.59" cy="95.44" r="1.75" fill="#fff" stroke="#111" stroke-width="1.3"/>
<circle cx="496.31" cy="225.47" r="1.55" fill="#a8a8a8"/>
<circle cx="496.31" cy="231.00" r="1.45" fill="#bcbcbc"/>
<circle cx="501.88" cy="225.88" r="1.55" fill="#a8a8a8"/>
<circle cx="501.88" cy="231.41" r="1.45" fill="#bcbcbc"/>
<circle cx="507.45" cy="226.83" r="1.55" fill="#a8a8a8"/>
<circle cx="507.45" cy="232.36" r="1.45" fill="#bcbcbc"/>
<circle cx="513.01" cy="225.20" r="1.55" fill="#a8a8a8"/>
<circle cx="513.01" cy="230.73" r="1.45" fill="#bcbcbc"/>
<circle cx="518.58" cy="224.39" r="1.55" fill="#a8a8a8"/>
<circle cx="518.58" cy="229.91" r="1.45" fill="#bcbcbc"/>
<circle cx="524.15" cy="220.99" r="1.55" fill="#a8a8a8"/>
<circle cx="524.15" cy="226.52" r="1.45" fill="#bcbcbc"/>
<circle cx="529.72" cy="218.28" r="1.55" fill="#a8a8a8"/>
<circle cx="529.72" cy="223.81" r="1.45" fill="#bcbcbc"/>
<circle cx="535.29" cy="215.29" r="1.55" fill="#a8a8a8"/>
<circle cx="535.29" cy="220.82" r="1.45" fill="#bcbcbc"/>
<circle cx="540.85" cy="208.64" r="1.55" fill="#a8a8a8"/>
<circle cx="540.85" cy="214.17" r="1.45" fill="#bcbcbc"/>
<circle cx="546.42" cy="206.88" r="1.55" fill="#a8a8a8"/>
<circle cx="546.42" cy="212.41" r="1.45" fill="#bcbcbc"/>
<circle cx="551.99" cy="206.20" r="1.55" fill="#a8a8a8"/>
<circle cx="551.99" cy="211.73" r="1.45" fill="#bcbcbc"/>
<circle cx="557.56" cy="201.31" r="1.55" fill="#a8a8a8"/>
<circle cx="557.56" cy="206.84" r="1.45" fill="#bcbcbc"/>
<circle cx="563.13" cy="197.38" r="1.55" fill="#a8a8a8"/>
<circle cx="563.13" cy="202.91" r="1.45" fill="#bcbcbc"/>
<circle cx="568.70" cy="188.09" r="1.55" fill="#a8a8a8"/>
<circle cx="568.70" cy="186.29" r="1.55" fill="#b4b4b4"/>
<circle cx="568.70" cy="197.47" r="1.45" fill="#b8b8b8"/>
<circle cx="568.70" cy="199.47" r="1.45" fill="#c4c4c4"/>
<circle cx="574.26" cy="181.30" r="1.55" fill="#a8a8a8"/>
<circle cx="574.26" cy="179.50" r="1.55" fill="#b4b4b4"/>
<circle cx="574.26" cy="192.04" r="1.45" fill="#b8b8b8"/>
<circle cx="574.26" cy="194.04" r="1.45" fill="#c4c4c4"/>
<circle cx="579.83" cy="173.16" r="1.55" fill="#a8a8a8"/>
<circle cx="579.83" cy="171.36" r="1.55" fill="#b4b4b4"/>
<circle cx="579.83" cy="185.26" r="1.45" fill="#b8b8b8"/>
<circle cx="579.83" cy="187.26" r="1.45" fill="#c4c4c4"/>
<circle cx="585.40" cy="156.33" r="1.55" fill="#a8a8a8"/>
<circle cx="585.40" cy="154.53" r="1.55" fill="#b4b4b4"/>
<circle cx="585.40" cy="172.64" r="1.45" fill="#b8b8b8"/>
<circle cx="585.40" cy="174.64" r="1.45" fill="#c4c4c4"/>
<circle cx="590.97" cy="154.43" r="1.55" fill="#a8a8a8"/>
<circle cx="590.97" cy="152.63" r="1.55" fill="#b4b4b4"/>
<circle cx="590.97" cy="170.87" r="1.45" fill="#b8b8b8"/>
<circle cx="590.97" cy="172.87" r="1.45" fill="#c4c4c4"/>
<circle cx="596.54" cy="143.57" r="1.55" fill="#a8a8a8"/>
<circle cx="596.54" cy="141.77" r="1.55" fill="#b4b4b4"/>
<circle cx="596.54" cy="161.24" r="1.45" fill="#b8b8b8"/>
<circle cx="596.54" cy="163.24" r="1.45" fill="#c4c4c4"/>
<circle cx="602.10" cy="132.85" r="1.55" fill="#a8a8a8"/>
<circle cx="602.10" cy="131.05" r="1.55" fill="#b4b4b4"/>
<circle cx="602.10" cy="150.38" r="1.45" fill="#b8b8b8"/>
<circle cx="602.10" cy="152.38" r="1.45" fill="#c4c4c4"/>
<circle cx="607.67" cy="126.20" r="1.55" fill="#a8a8a8"/>
<circle cx="607.67" cy="124.40" r="1.55" fill="#b4b4b4"/>
<circle cx="607.67" cy="154.04" r="1.45" fill="#b8b8b8"/>
<circle cx="607.67" cy="156.04" r="1.45" fill="#c4c4c4"/>
<circle cx="613.24" cy="114.12" r="1.55" fill="#a8a8a8"/>
<circle cx="613.24" cy="112.32" r="1.55" fill="#b4b4b4"/>
<circle cx="613.24" cy="137.76" r="1.45" fill="#b8b8b8"/>
<circle cx="613.24" cy="139.76" r="1.45" fill="#c4c4c4"/>
<circle cx="618.81" cy="107.47" r="1.55" fill="#a8a8a8"/>
<circle cx="618.81" cy="105.67" r="1.55" fill="#b4b4b4"/>
<circle cx="618.81" cy="125.68" r="1.45" fill="#b8b8b8"/>
<circle cx="618.81" cy="127.68" r="1.45" fill="#c4c4c4"/>
<circle cx="624.38" cy="100.55" r="1.55" fill="#a8a8a8"/>
<circle cx="624.38" cy="98.75" r="1.55" fill="#b4b4b4"/>
<circle cx="624.38" cy="114.82" r="1.45" fill="#b8b8b8"/>
<circle cx="624.38" cy="116.82" r="1.45" fill="#c4c4c4"/>
<circle cx="629.95" cy="90.37" r="1.55" fill="#a8a8a8"/>
<circle cx="629.95" cy="88.57" r="1.55" fill="#b4b4b4"/>
<circle cx="629.95" cy="107.09" r="1.45" fill="#b8b8b8"/>
<circle cx="629.95" cy="109.09" r="1.45" fill="#c4c4c4"/>
<circle cx="635.51" cy="92.41" r="1.55" fill="#a8a8a8"/>
<circle cx="635.51" cy="90.61" r="1.55" fill="#b4b4b4"/>
<circle cx="635.51" cy="109.80" r="1.45" fill="#b8b8b8"/>
<circle cx="635.51" cy="111.80" r="1.45" fill="#c4c4c4"/>
<circle cx="641.08" cy="105.30" r="1.55" fill="#a8a8a8"/>
<circle cx="641.08" cy="103.50" r="1.55" fill="#b4b4b4"/>
<circle cx="641.08" cy="121.47" r="1.45" fill="#b8b8b8"/>
<circle cx="641.08" cy="123.47" r="1.45" fill="#c4c4c4"/>
<circle cx="646.65" cy="99.60" r="1.55" fill="#a8a8a8"/>
<circle cx="646.65" cy="97.80" r="1.55" fill="#b4b4b4"/>
<circle cx="646.65" cy="117.26" r="1.45" fill="#b8b8b8"/>
<circle cx="646.65" cy="119.26" r="1.45" fill="#c4c4c4"/>
<circle cx="652.22" cy="98.11" r="1.55" fill="#a8a8a8"/>
<circle cx="652.22" cy="96.31" r="1.55" fill="#b4b4b4"/>
<circle cx="652.22" cy="111.70" r="1.45" fill="#b8b8b8"/>
<circle cx="652.22" cy="113.70" r="1.45" fill="#c4c4c4"/>
<circle cx="657.79" cy="94.44" r="1.55" fill="#a8a8a8"/>
<circle cx="657.79" cy="92.64" r="1.55" fill="#b4b4b4"/>
<circle cx="657.79" cy="106.54" r="1.45" fill="#b8b8b8"/>
<circle cx="657.79" cy="108.54" r="1.45" fill="#c4c4c4"/>
<circle cx="663.35" cy="92.54" r="1.55" fill="#a8a8a8"/>
<circle cx="663.35" cy="90.74" r="1.55" fill="#b4b4b4"/>
<circle cx="663.35" cy="101.66" r="1.45" fill="#b8b8b8"/>
<circle cx="663.35" cy="103.66" r="1.45" fill="#c4c4c4"/>
<circle cx="668.92" cy="89.01" r="1.55" fill="#a8a8a8"/>
<circle cx="668.92" cy="87.21" r="1.55" fill="#b4b4b4"/>
<circle cx="668.92" cy="99.08" r="1.45" fill="#b8b8b8"/>
<circle cx="668.92" cy="101.08" r="1.45" fill="#c4c4c4"/>
<circle cx="674.49" cy="84.94" r="1.55" fill="#a8a8a8"/>
<circle cx="674.49" cy="83.14" r="1.55" fill="#b4b4b4"/>
<circle cx="674.49" cy="94.60" r="1.45" fill="#b8b8b8"/>
<circle cx="674.49" cy="96.60" r="1.45" fill="#c4c4c4"/>
<path d="M496.31,223.69 L498.54,222.76 L500.76,221.78 L502.99,220.74 L505.22,219.66 L507.45,218.52 L509.67,217.32 L511.90,216.07 L514.13,214.75 L516.35,213.37 L518.58,211.94 L520.81,210.43 L523.04,208.87 L525.26,207.24 L527.49,205.54 L529.72,203.77 L531.95,201.94 L534.17,200.05 L536.40,198.08 L538.63,196.06 L540.85,193.96 L543.08,191.81 L545.31,189.60 L547.54,187.32 L549.76,184.99 L551.99,182.61 L554.22,180.18 L556.45,177.70 L558.67,175.17 L560.90,172.61 L563.13,170.02 L565.35,167.40 L567.58,164.75 L569.81,162.08 L572.04,159.41 L574.26,156.72 L576.49,154.03 L578.72,151.34 L580.95,148.66 L583.17,146.00 L585.40,143.35 L587.63,140.73 L589.85,138.14 L592.08,135.59 L594.31,133.07 L596.54,130.59 L598.76,128.16 L600.99,125.78 L603.22,123.46 L605.45,121.19 L607.67,118.98 L609.90,116.83 L612.13,114.75 L614.35,112.73 L616.58,110.77 L618.81,108.88 L621.04,107.05 L623.26,105.30 L625.49,103.60 L627.72,101.98 L629.95,100.42 L632.17,98.92 L634.40,97.49 L636.63,96.12 L638.85,94.81 L641.08,93.56 L643.31,92.37 L645.54,91.23 L647.76,90.15 L649.99,89.12 L652.22,88.15 L654.45,87.22 L656.67,86.34 L658.90,85.50 L661.13,84.71 L663.35,83.96 L665.58,83.25 L667.81,82.58 L670.04,81.94 L672.26,81.34 L674.49,80.77" fill="none" stroke="#43893a" stroke-width="1.15"/>
<path d="M496.31,223.69 L498.54,222.95 L500.76,222.18 L502.99,221.38 L505.22,220.54 L507.45,219.67 L509.67,218.77 L511.90,217.83 L514.13,216.85 L516.35,215.83 L518.58,214.78 L520.81,213.69 L523.04,212.56 L525.26,211.39 L527.49,210.17 L529.72,208.92 L531.95,207.62 L534.17,206.28 L536.40,204.90 L538.63,203.48 L540.85,202.01 L543.08,200.50 L545.31,198.95 L547.54,197.36 L549.76,195.72 L551.99,194.05 L554.22,192.33 L556.45,190.58 L558.67,188.78 L560.90,186.95 L563.13,185.08 L565.35,183.18 L567.58,181.24 L569.81,179.27 L572.04,177.27 L574.26,175.25 L576.49,173.20 L578.72,171.12 L580.95,169.03 L583.17,166.92 L585.40,164.79 L587.63,162.64 L589.85,160.49 L592.08,158.33 L594.31,156.16 L596.54,154.00 L598.76,151.83 L600.99,149.66 L603.22,147.51 L605.45,145.36 L607.67,143.22 L609.90,141.10 L612.13,138.99 L614.35,136.91 L616.58,134.84 L618.81,132.80 L621.04,130.79 L623.26,128.80 L625.49,126.85 L627.72,124.93 L629.95,123.04 L632.17,121.19 L634.40,119.37 L636.63,117.59 L638.85,115.85 L641.08,114.16 L643.31,112.50 L645.54,110.88 L647.76,109.31 L649.99,107.77 L652.22,106.29 L654.45,104.84 L656.67,103.43 L658.90,102.07 L661.13,100.75 L663.35,99.47 L665.58,98.24 L667.81,97.04 L670.04,95.89 L672.26,94.78 L674.49,93.70" fill="none" stroke="#2a2aaa" stroke-width="1.7"/>
<path d="M496.31,226.27V229.80M494.01,226.27H498.61M494.01,229.80H498.61" stroke="#111" stroke-width="1.4" fill="none"/>
<path d="M501.88,226.68V230.21M499.58,226.68H504.18M499.58,230.21H504.18" stroke="#111" stroke-width="1.4" fill="none"/>
<path d="M507.45,227.63V231.16M505.15,227.63H509.75M505.15,231.16H509.75" stroke="#111" stroke-width="1.4" fill="none"/>
<path d="M513.01,226.00V229.53M510.71,226.00H515.31M510.71,229.53H515.31" stroke="#111" stroke-width="1.4" fill="none"/>
<path d="M518.58,225.19V228.71M516.28,225.19H520.88M516.28,228.71H520.88" stroke="#111" stroke-width="1.4" fill="none"/>
<path d="M524.15,221.79V225.32M521.85,221.79H526.45M521.85,225.32H526.45" stroke="#111" stroke-width="1.4" fill="none"/>
<path d="M529.72,219.08V222.61M527.42,219.08H532.02M527.42,222.61H532.02" stroke="#111" stroke-width="1.4" fill="none"/>
<path d="M535.29,216.09V219.62M532.99,216.09H537.59M532.99,219.62H537.59" stroke="#111" stroke-width="1.4" fill="none"/>
<path d="M540.85,209.44V212.97M538.55,209.44H543.15M538.55,212.97H543.15" stroke="#111" stroke-width="1.4" fill="none"/>
<path d="M546.42,207.68V211.21M544.12,207.68H548.72M544.12,211.21H548.72" stroke="#111" stroke-width="1.4" fill="none"/>
<path d="M551.99,207.00V210.53M549.69,207.00H554.29M549.69,210.53H554.29" stroke="#111" stroke-width="1.4" fill="none"/>
<path d="M557.56,202.11V205.64M555.26,202.11H559.86M555.26,205.64H559.86" stroke="#111" stroke-width="1.4" fill="none"/>
<path d="M563.13,198.18V201.71M560.83,198.18H565.43M560.83,201.71H565.43" stroke="#111" stroke-width="1.4" fill="none"/>
<path d="M568.70,189.09V195.87M566.40,189.09H571.00M566.40,195.87H571.00" stroke="#111" stroke-width="1.4" fill="none"/>
<path d="M574.26,182.30V190.44M571.96,182.30H576.56M571.96,190.44H576.56" stroke="#111" stroke-width="1.4" fill="none"/>
<path d="M579.83,174.16V183.66M577.53,174.16H582.13M577.53,183.66H582.13" stroke="#111" stroke-width="1.4" fill="none"/>
<path d="M585.40,157.33V171.04M583.10,157.33H587.70M583.10,171.04H587.70" stroke="#111" stroke-width="1.4" fill="none"/>
<path d="M590.97,155.43V169.27M588.67,155.43H593.27M588.67,169.27H593.27" stroke="#111" stroke-width="1.4" fill="none"/>
<path d="M596.54,144.57V159.64M594.24,144.57H598.84M594.24,159.64H598.84" stroke="#111" stroke-width="1.4" fill="none"/>
<path d="M602.10,133.85V148.78M599.80,133.85H604.40M599.80,148.78H604.40" stroke="#111" stroke-width="1.4" fill="none"/>
<path d="M607.67,127.20V152.44M605.37,127.20H609.97M605.37,152.44H609.97" stroke="#111" stroke-width="1.4" fill="none"/>
<path d="M613.24,115.12V136.16M610.94,115.12H615.54M610.94,136.16H615.54" stroke="#111" stroke-width="1.4" fill="none"/>
<path d="M618.81,108.47V124.08M616.51,108.47H621.11M616.51,124.08H621.11" stroke="#111" stroke-width="1.4" fill="none"/>
<path d="M624.38,101.55V113.22M622.08,101.55H626.68M622.08,113.22H626.68" stroke="#111" stroke-width="1.4" fill="none"/>
<path d="M629.95,91.37V105.49M627.65,91.37H632.25M627.65,105.49H632.25" stroke="#111" stroke-width="1.4" fill="none"/>
<path d="M635.51,93.41V108.20M633.21,93.41H637.81M633.21,108.20H637.81" stroke="#111" stroke-width="1.4" fill="none"/>
<path d="M641.08,106.30V119.87M638.78,106.30H643.38M638.78,119.87H643.38" stroke="#111" stroke-width="1.4" fill="none"/>
<path d="M646.65,100.60V115.66M644.35,100.60H648.95M644.35,115.66H648.95" stroke="#111" stroke-width="1.4" fill="none"/>
<path d="M652.22,99.11V110.10M649.92,99.11H654.52M649.92,110.10H654.52" stroke="#111" stroke-width="1.4" fill="none"/>
<path d="M657.79,95.44V104.94M655.49,95.44H660.09M655.49,104.94H660.09" stroke="#111" stroke-width="1.4" fill="none"/>
<path d="M663.35,93.54V100.06M661.05,93.54H665.65M661.05,100.06H665.65" stroke="#111" stroke-width="1.4" fill="none"/>
<path d="M668.92,90.01V97.48M666.62,90.01H671.22M666.62,97.48H671.22" stroke="#111" stroke-width="1.4" fill="none"/>
<path d="M674.49,85.94V93.00M672.19,85.94H676.79M672.19,93.00H676.79" stroke="#111" stroke-width="1.4" fill="none"/>
<circle cx="496.31" cy="228.04" r="1.75" fill="#fff" stroke="#111" stroke-width="1.3"/>
<circle cx="501.88" cy="228.44" r="1.75" fill="#fff" stroke="#111" stroke-width="1.3"/>
<circle cx="507.45" cy="229.39" r="1.75" fill="#fff" stroke="#111" stroke-width="1.3"/>
<circle cx="513.01" cy="227.76" r="1.75" fill="#fff" stroke="#111" stroke-width="1.3"/>
<circle cx="518.58" cy="226.95" r="1.75" fill="#fff" stroke="#111" stroke-width="1.3"/>
<circle cx="524.15" cy="223.56" r="1.75" fill="#fff" stroke="#111" stroke-width="1.3"/>
<circle cx="529.72" cy="220.84" r="1.75" fill="#fff" stroke="#111" stroke-width="1.3"/>
<circle cx="535.29" cy="217.86" r="1.75" fill="#fff" stroke="#111" stroke-width="1.3"/>
<circle cx="540.85" cy="211.21" r="1.75" fill="#fff" stroke="#111" stroke-width="1.3"/>
<circle cx="546.42" cy="209.44" r="1.75" fill="#fff" stroke="#111" stroke-width="1.3"/>
<circle cx="551.99" cy="208.76" r="1.75" fill="#fff" stroke="#111" stroke-width="1.3"/>
<circle cx="557.56" cy="203.88" r="1.75" fill="#fff" stroke="#111" stroke-width="1.3"/>
<circle cx="563.13" cy="199.94" r="1.75" fill="#fff" stroke="#111" stroke-width="1.3"/>
<circle cx="568.70" cy="192.61" r="1.75" fill="#fff" stroke="#111" stroke-width="1.3"/>
<circle cx="574.26" cy="186.10" r="1.75" fill="#fff" stroke="#111" stroke-width="1.3"/>
<circle cx="579.83" cy="178.91" r="1.75" fill="#fff" stroke="#111" stroke-width="1.3"/>
<circle cx="585.40" cy="164.52" r="1.75" fill="#fff" stroke="#111" stroke-width="1.3"/>
<circle cx="590.97" cy="162.35" r="1.75" fill="#fff" stroke="#111" stroke-width="1.3"/>
<circle cx="596.54" cy="152.17" r="1.75" fill="#fff" stroke="#111" stroke-width="1.3"/>
<circle cx="602.10" cy="141.59" r="1.75" fill="#fff" stroke="#111" stroke-width="1.3"/>
<circle cx="607.67" cy="139.82" r="1.75" fill="#fff" stroke="#111" stroke-width="1.3"/>
<circle cx="613.24" cy="125.84" r="1.75" fill="#fff" stroke="#111" stroke-width="1.3"/>
<circle cx="618.81" cy="116.34" r="1.75" fill="#fff" stroke="#111" stroke-width="1.3"/>
<circle cx="624.38" cy="107.93" r="1.75" fill="#fff" stroke="#111" stroke-width="1.3"/>
<circle cx="629.95" cy="98.84" r="1.75" fill="#fff" stroke="#111" stroke-width="1.3"/>
<circle cx="635.51" cy="100.60" r="1.75" fill="#fff" stroke="#111" stroke-width="1.3"/>
<circle cx="641.08" cy="113.09" r="1.75" fill="#fff" stroke="#111" stroke-width="1.3"/>
<circle cx="646.65" cy="107.93" r="1.75" fill="#fff" stroke="#111" stroke-width="1.3"/>
<circle cx="652.22" cy="105.08" r="1.75" fill="#fff" stroke="#111" stroke-width="1.3"/>
<circle cx="657.79" cy="100.06" r="1.75" fill="#fff" stroke="#111" stroke-width="1.3"/>
<circle cx="663.35" cy="97.07" r="1.75" fill="#fff" stroke="#111" stroke-width="1.3"/>
<circle cx="668.92" cy="93.54" r="1.75" fill="#fff" stroke="#111" stroke-width="1.3"/>
<circle cx="674.49" cy="89.47" r="1.75" fill="#fff" stroke="#111" stroke-width="1.3"/>
<rect x="68.60" y="49.30" width="196.20" height="190.00" fill="none" stroke="#444" stroke-width="1.1"/>
<path d="M65.60,239.30H68.60M65.60,212.16H68.60M65.60,185.01H68.60M65.60,157.87H68.60M65.60,130.73H68.60M65.60,103.59H68.60M65.60,76.44H68.60M65.60,49.30H68.60M77.52,239.30V242.30M99.81,239.30V242.30M122.11,239.30V242.30M144.40,239.30V242.30M166.70,239.30V242.30M189.00,239.30V242.30M211.29,239.30V242.30M233.59,239.30V242.30M255.88,239.30V242.30" stroke="#444" stroke-width="1" fill="none"/>
<text x="63.10" y="244.00" font-size="13" text-anchor="end">0.0</text>
<text x="63.10" y="216.86" font-size="13" text-anchor="end">0.2</text>
<text x="63.10" y="189.71" font-size="13" text-anchor="end">0.4</text>
<text x="63.10" y="162.57" font-size="13" text-anchor="end">0.6</text>
<text x="63.10" y="135.43" font-size="13" text-anchor="end">0.8</text>
<text x="63.10" y="108.29" font-size="13" text-anchor="end">1.0</text>
<text x="63.10" y="81.14" font-size="13" text-anchor="end">1.2</text>
<text x="63.10" y="54.00" font-size="13" text-anchor="end">1.4</text>
<path d="M71.20,39.30L77.50,45.70M77.50,39.30L71.20,45.70" stroke="#1a1a1a" stroke-width="1.05"/>
<text x="79.90" y="46.10" font-size="13.2" letter-spacing="0.4">10</text>
<text x="95.10" y="37.00" font-size="9.3" style="stroke-width:0.1px">5</text>
<rect x="280.50" y="49.30" width="196.00" height="190.00" fill="none" stroke="#444" stroke-width="1.1"/>
<path d="M277.50,239.30H280.50M277.50,212.16H280.50M277.50,185.01H280.50M277.50,157.87H280.50M277.50,130.73H280.50M277.50,103.59H280.50M277.50,76.44H280.50M277.50,49.30H280.50M289.41,239.30V242.30M311.68,239.30V242.30M333.95,239.30V242.30M356.23,239.30V242.30M378.50,239.30V242.30M400.77,239.30V242.30M423.05,239.30V242.30M445.32,239.30V242.30M467.59,239.30V242.30" stroke="#444" stroke-width="1" fill="none"/>
<rect x="487.40" y="49.30" width="196.00" height="190.00" fill="none" stroke="#444" stroke-width="1.1"/>
<path d="M484.40,239.30H487.40M484.40,212.16H487.40M484.40,185.01H487.40M484.40,157.87H487.40M484.40,130.73H487.40M484.40,103.59H487.40M484.40,76.44H487.40M484.40,49.30H487.40M496.31,239.30V242.30M518.58,239.30V242.30M540.85,239.30V242.30M563.13,239.30V242.30M585.40,239.30V242.30M607.67,239.30V242.30M629.95,239.30V242.30M652.22,239.30V242.30M674.49,239.30V242.30" stroke="#444" stroke-width="1" fill="none"/>
<rect x="68.60" y="268.50" width="196.20" height="189.80" fill="none" stroke="#444" stroke-width="1.1"/>
<path d="M65.60,458.30H68.60M65.60,431.19H68.60M65.60,404.07H68.60M65.60,376.96H68.60M65.60,349.84H68.60M65.60,322.73H68.60M65.60,295.61H68.60M65.60,268.50H68.60M77.52,458.30V461.30M99.81,458.30V461.30M122.11,458.30V461.30M144.40,458.30V461.30M166.70,458.30V461.30M189.00,458.30V461.30M211.29,458.30V461.30M233.59,458.30V461.30M255.88,458.30V461.30" stroke="#444" stroke-width="1" fill="none"/>
<text x="63.10" y="463.00" font-size="13" text-anchor="end">0.0</text>
<text x="63.10" y="435.89" font-size="13" text-anchor="end">0.2</text>
<text x="63.10" y="408.77" font-size="13" text-anchor="end">0.4</text>
<text x="63.10" y="381.66" font-size="13" text-anchor="end">0.6</text>
<text x="63.10" y="354.54" font-size="13" text-anchor="end">0.8</text>
<text x="63.10" y="327.43" font-size="13" text-anchor="end">1.0</text>
<text x="63.10" y="300.31" font-size="13" text-anchor="end">1.2</text>
<text x="63.10" y="273.20" font-size="13" text-anchor="end">1.4</text>
<path d="M71.20,258.50L77.50,264.90M77.50,258.50L71.20,264.90" stroke="#1a1a1a" stroke-width="1.05"/>
<text x="79.90" y="265.30" font-size="13.2" letter-spacing="0.4">10</text>
<text x="95.10" y="256.20" font-size="9.3" style="stroke-width:0.1px">5</text>
<text x="77.52" y="474.10" font-size="13" text-anchor="middle">1</text>
<text x="99.81" y="474.10" font-size="13" text-anchor="middle">2</text>
<text x="122.11" y="474.10" font-size="13" text-anchor="middle">3</text>
<text x="144.40" y="474.10" font-size="13" text-anchor="middle">4</text>
<text x="166.70" y="474.10" font-size="13" text-anchor="middle">5</text>
<text x="189.00" y="474.10" font-size="13" text-anchor="middle">6</text>
<text x="211.29" y="474.10" font-size="13" text-anchor="middle">7</text>
<text x="233.59" y="474.10" font-size="13" text-anchor="middle">8</text>
<text x="255.88" y="474.10" font-size="13" text-anchor="middle">9</text>
<rect x="280.50" y="268.50" width="196.00" height="189.80" fill="none" stroke="#444" stroke-width="1.1"/>
<path d="M277.50,458.30H280.50M277.50,431.19H280.50M277.50,404.07H280.50M277.50,376.96H280.50M277.50,349.84H280.50M277.50,322.73H280.50M277.50,295.61H280.50M277.50,268.50H280.50M289.41,458.30V461.30M311.68,458.30V461.30M333.95,458.30V461.30M356.23,458.30V461.30M378.50,458.30V461.30M400.77,458.30V461.30M423.05,458.30V461.30M445.32,458.30V461.30M467.59,458.30V461.30" stroke="#444" stroke-width="1" fill="none"/>
<text x="289.41" y="474.10" font-size="13" text-anchor="middle">1</text>
<text x="311.68" y="474.10" font-size="13" text-anchor="middle">2</text>
<text x="333.95" y="474.10" font-size="13" text-anchor="middle">3</text>
<text x="356.23" y="474.10" font-size="13" text-anchor="middle">4</text>
<text x="378.50" y="474.10" font-size="13" text-anchor="middle">5</text>
<text x="400.77" y="474.10" font-size="13" text-anchor="middle">6</text>
<text x="423.05" y="474.10" font-size="13" text-anchor="middle">7</text>
<text x="445.32" y="474.10" font-size="13" text-anchor="middle">8</text>
<text x="467.59" y="474.10" font-size="13" text-anchor="middle">9</text>
<rect x="487.40" y="268.50" width="196.00" height="189.80" fill="none" stroke="#444" stroke-width="1.1"/>
<path d="M484.40,458.30H487.40M484.40,431.19H487.40M484.40,404.07H487.40M484.40,376.96H487.40M484.40,349.84H487.40M484.40,322.73H487.40M484.40,295.61H487.40M484.40,268.50H487.40M496.31,458.30V461.30M518.58,458.30V461.30M540.85,458.30V461.30M563.13,458.30V461.30M585.40,458.30V461.30M607.67,458.30V461.30M629.95,458.30V461.30M652.22,458.30V461.30M674.49,458.30V461.30" stroke="#444" stroke-width="1" fill="none"/>
<text x="496.31" y="474.10" font-size="13" text-anchor="middle">1</text>
<text x="518.58" y="474.10" font-size="13" text-anchor="middle">2</text>
<text x="540.85" y="474.10" font-size="13" text-anchor="middle">3</text>
<text x="563.13" y="474.10" font-size="13" text-anchor="middle">4</text>
<text x="585.40" y="474.10" font-size="13" text-anchor="middle">5</text>
<text x="607.67" y="474.10" font-size="13" text-anchor="middle">6</text>
<text x="629.95" y="474.10" font-size="13" text-anchor="middle">7</text>
<text x="652.22" y="474.10" font-size="13" text-anchor="middle">8</text>
<text x="674.49" y="474.10" font-size="13" text-anchor="middle">9</text>
<text x="378.4" y="12.7" font-size="15" text-anchor="middle">Seeding density [cells cm<tspan font-size="10" dy="-5">−2</tspan><tspan dy="5">]</tspan></text>
<text x="166.00" y="30.8" font-size="15.3" text-anchor="middle">1500</text>
<text x="377.80" y="30.8" font-size="15.3" text-anchor="middle">3000</text>
<text x="584.70" y="30.8" font-size="15.3" text-anchor="middle">4500</text>
<text x="0" y="0" font-size="13.4" text-anchor="middle" transform="translate(32.4,254) rotate(-90)">Number of adhesion cells [cells]</text>
<text x="379" y="494.8" font-size="13.3" text-anchor="middle">Time [days]</text>
<text x="0" y="0" font-size="19.2" font-weight="bold" style="fill:#000" transform="translate(1.1,150.9) scale(0.9,1)">a</text>
<text x="0" y="0" font-size="19.2" font-weight="bold" style="fill:#000" transform="translate(0.9,370.0) scale(0.9,1)">b</text>
</svg></body></html>
